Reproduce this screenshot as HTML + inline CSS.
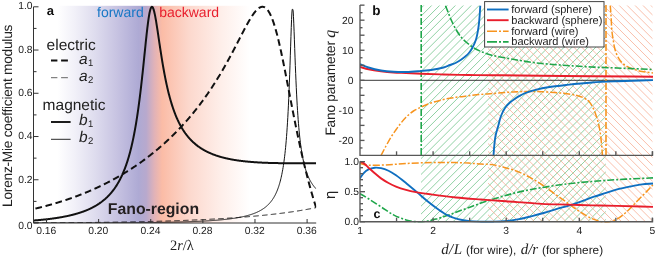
<!DOCTYPE html>
<html><head><meta charset="utf-8"><title>figure</title>
<style>
html,body{margin:0;padding:0;background:#fff;}
svg{display:block;font-family:"Liberation Sans",sans-serif;text-rendering:geometricPrecision;}
.ser{font-family:"Liberation Serif",serif;font-style:italic;}
</style></head><body>
<svg width="656" height="258" viewBox="0 0 656 258">
<defs>
<linearGradient id="bg" x1="0" x2="1" y1="0" y2="0">
<stop offset="0" stop-color="#ffffff"/>
<stop offset="0.085" stop-color="#ffffff"/>
<stop offset="0.147" stop-color="#f1f0f8"/>
<stop offset="0.218" stop-color="#dedcee"/>
<stop offset="0.292" stop-color="#c8c4e2"/>
<stop offset="0.341" stop-color="#b8b4da"/>
<stop offset="0.372" stop-color="#aeaad4"/>
<stop offset="0.399" stop-color="#b8a9cd"/>
<stop offset="0.427" stop-color="#e0b2b8"/>
<stop offset="0.455" stop-color="#fbbca6"/>
<stop offset="0.55" stop-color="#fcd8cd"/>
<stop offset="0.66" stop-color="#feeee9"/>
<stop offset="0.765" stop-color="#ffffff"/>
<stop offset="1" stop-color="#ffffff"/>
</linearGradient>
<clipPath id="ca"><rect x="33.5" y="3" width="282.7" height="220.0"/></clipPath>
<clipPath id="cg"><rect x="421.0" y="5.6" width="184.79999999999995" height="216.1"/></clipPath>
<clipPath id="co"><rect x="488.0" y="5.6" width="164.5" height="216.1"/></clipPath>
<clipPath id="cb"><rect x="360.0" y="5.1" width="293.5" height="150.20000000000002"/></clipPath>
<clipPath id="cc"><rect x="360.0" y="156.3" width="293.5" height="66.39999999999998"/></clipPath>
</defs>
<rect x="0" y="0" width="656" height="258" fill="#fff"/>
<g opacity="0.999">
<!-- panel a -->
<rect x="33.5" y="5.8" width="282.7" height="217.2" fill="url(#bg)"/>
<g clip-path="url(#ca)" fill="none" stroke="#111" stroke-linejoin="round">
<path d="M33.47,222.86 L33.78,222.86 L34.10,222.85 L34.41,222.85 L34.73,222.85 L35.04,222.85 L35.36,222.85 L35.67,222.85 L35.98,222.85 L36.30,222.85 L36.61,222.84 L36.93,222.84 L37.24,222.84 L37.56,222.84 L37.87,222.84 L38.19,222.84 L38.50,222.84 L38.81,222.84 L39.13,222.83 L39.44,222.83 L39.76,222.83 L40.07,222.83 L40.39,222.83 L40.70,222.83 L41.01,222.83 L41.33,222.83 L41.64,222.82 L41.96,222.82 L42.27,222.82 L42.59,222.82 L42.90,222.82 L43.22,222.82 L43.53,222.82 L43.84,222.81 L44.16,222.81 L44.47,222.81 L44.79,222.81 L45.10,222.81 L45.42,222.81 L45.73,222.81 L46.04,222.80 L46.36,222.80 L46.67,222.80 L46.99,222.80 L47.30,222.80 L47.62,222.80 L47.93,222.79 L48.25,222.79 L48.56,222.79 L48.87,222.79 L49.19,222.79 L49.50,222.79 L49.82,222.79 L50.13,222.78 L50.45,222.78 L50.76,222.78 L51.07,222.78 L51.39,222.78 L51.70,222.78 L52.02,222.77 L52.33,222.77 L52.65,222.77 L52.96,222.77 L53.28,222.77 L53.59,222.77 L53.90,222.76 L54.22,222.76 L54.53,222.76 L54.85,222.76 L55.16,222.76 L55.48,222.76 L55.79,222.75 L56.10,222.75 L56.42,222.75 L56.73,222.75 L57.05,222.75 L57.36,222.74 L57.68,222.74 L57.99,222.74 L58.31,222.74 L58.62,222.74 L58.93,222.74 L59.25,222.73 L59.56,222.73 L59.88,222.73 L60.19,222.73 L60.51,222.73 L60.82,222.72 L61.13,222.72 L61.45,222.72 L61.76,222.72 L62.08,222.72 L62.39,222.71 L62.71,222.71 L63.02,222.71 L63.34,222.71 L63.65,222.71 L63.96,222.70 L64.28,222.70 L64.59,222.70 L64.91,222.70 L65.22,222.70 L65.54,222.69 L65.85,222.69 L66.16,222.69 L66.48,222.69 L66.79,222.68 L67.11,222.68 L67.42,222.68 L67.74,222.68 L68.05,222.68 L68.37,222.67 L68.68,222.67 L68.99,222.67 L69.31,222.67 L69.62,222.66 L69.94,222.66 L70.25,222.66 L70.57,222.66 L70.88,222.65 L71.19,222.65 L71.51,222.65 L71.82,222.65 L72.14,222.65 L72.45,222.64 L72.77,222.64 L73.08,222.64 L73.40,222.64 L73.71,222.63 L74.02,222.63 L74.34,222.63 L74.65,222.63 L74.97,222.62 L75.28,222.62 L75.60,222.62 L75.91,222.62 L76.22,222.61 L76.54,222.61 L76.85,222.61 L77.17,222.61 L77.48,222.60 L77.80,222.60 L78.11,222.60 L78.43,222.60 L78.74,222.59 L79.05,222.59 L79.37,222.59 L79.68,222.58 L80.00,222.58 L80.31,222.58 L80.63,222.58 L80.94,222.57 L81.25,222.57 L81.57,222.57 L81.88,222.56 L82.20,222.56 L82.51,222.56 L82.83,222.56 L83.14,222.55 L83.46,222.55 L83.77,222.55 L84.08,222.54 L84.40,222.54 L84.71,222.54 L85.03,222.54 L85.34,222.53 L85.66,222.53 L85.97,222.53 L86.28,222.52 L86.60,222.52 L86.91,222.52 L87.23,222.51 L87.54,222.51 L87.86,222.51 L88.17,222.51 L88.49,222.50 L88.80,222.50 L89.11,222.50 L89.43,222.49 L89.74,222.49 L90.06,222.49 L90.37,222.48 L90.69,222.48 L91.00,222.48 L91.31,222.47 L91.63,222.47 L91.94,222.47 L92.26,222.46 L92.57,222.46 L92.89,222.46 L93.20,222.45 L93.52,222.45 L93.83,222.45 L94.14,222.44 L94.46,222.44 L94.77,222.44 L95.09,222.43 L95.40,222.43 L95.72,222.43 L96.03,222.42 L96.34,222.42 L96.66,222.42 L96.97,222.41 L97.29,222.41 L97.60,222.40 L97.92,222.40 L98.23,222.40 L98.55,222.39 L98.86,222.39 L99.17,222.39 L99.49,222.38 L99.80,222.38 L100.12,222.37 L100.43,222.37 L100.75,222.37 L101.06,222.36 L101.37,222.36 L101.69,222.36 L102.00,222.35 L102.32,222.35 L102.63,222.34 L102.95,222.34 L103.26,222.34 L103.58,222.33 L103.89,222.33 L104.20,222.32 L104.52,222.32 L104.83,222.32 L105.15,222.31 L105.46,222.31 L105.78,222.30 L106.09,222.30 L106.40,222.30 L106.72,222.29 L107.03,222.29 L107.35,222.28 L107.66,222.28 L107.98,222.27 L108.29,222.27 L108.60,222.27 L108.92,222.26 L109.23,222.26 L109.55,222.25 L109.86,222.25 L110.18,222.24 L110.49,222.24 L110.81,222.24 L111.12,222.23 L111.43,222.23 L111.75,222.22 L112.06,222.22 L112.38,222.21 L112.69,222.21 L113.01,222.20 L113.32,222.20 L113.63,222.19 L113.95,222.19 L114.26,222.18 L114.58,222.18 L114.89,222.18 L115.21,222.17 L115.52,222.17 L115.84,222.16 L116.15,222.16 L116.46,222.15 L116.78,222.15 L117.09,222.14 L117.41,222.14 L117.72,222.13 L118.04,222.13 L118.35,222.12 L118.66,222.12 L118.98,222.11 L119.29,222.11 L119.61,222.10 L119.92,222.10 L120.24,222.09 L120.55,222.09 L120.87,222.08 L121.18,222.08 L121.49,222.07 L121.81,222.07 L122.12,222.06 L122.44,222.06 L122.75,222.05 L123.07,222.04 L123.38,222.04 L123.69,222.03 L124.01,222.03 L124.32,222.02 L124.64,222.02 L124.95,222.01 L125.27,222.01 L125.58,222.00 L125.90,222.00 L126.21,221.99 L126.52,221.98 L126.84,221.98 L127.15,221.97 L127.47,221.97 L127.78,221.96 L128.10,221.96 L128.41,221.95 L128.72,221.94 L129.04,221.94 L129.35,221.93 L129.67,221.93 L129.98,221.92 L130.30,221.92 L130.61,221.91 L130.93,221.90 L131.24,221.90 L131.55,221.89 L131.87,221.89 L132.18,221.88 L132.50,221.87 L132.81,221.87 L133.13,221.86 L133.44,221.86 L133.75,221.85 L134.07,221.84 L134.38,221.84 L134.70,221.83 L135.01,221.82 L135.33,221.82 L135.64,221.81 L135.96,221.80 L136.27,221.80 L136.58,221.79 L136.90,221.79 L137.21,221.78 L137.53,221.77 L137.84,221.77 L138.16,221.76 L138.47,221.75 L138.78,221.75 L139.10,221.74 L139.41,221.73 L139.73,221.73 L140.04,221.72 L140.36,221.71 L140.67,221.71 L140.99,221.70 L141.30,221.69 L141.61,221.69 L141.93,221.68 L142.24,221.67 L142.56,221.66 L142.87,221.66 L143.19,221.65 L143.50,221.64 L143.81,221.64 L144.13,221.63 L144.44,221.62 L144.76,221.61 L145.07,221.61 L145.39,221.60 L145.70,221.59 L146.02,221.59 L146.33,221.58 L146.64,221.57 L146.96,221.56 L147.27,221.56 L147.59,221.55 L147.90,221.54 L148.22,221.53 L148.53,221.53 L148.84,221.52 L149.16,221.51 L149.47,221.50 L149.79,221.49 L150.10,221.49 L150.42,221.48 L150.73,221.47 L151.05,221.46 L151.36,221.46 L151.67,221.45 L151.99,221.44 L152.30,221.43 L152.62,221.42 L152.93,221.42 L153.25,221.41 L153.56,221.40 L153.87,221.39 L154.19,221.38 L154.50,221.38 L154.82,221.37 L155.13,221.36 L155.45,221.35 L155.76,221.34 L156.08,221.33 L156.39,221.33 L156.70,221.32 L157.02,221.31 L157.33,221.30 L157.65,221.29 L157.96,221.28 L158.28,221.27 L158.59,221.27 L158.90,221.26 L159.22,221.25 L159.53,221.24 L159.85,221.23 L160.16,221.22 L160.48,221.21 L160.79,221.20 L161.11,221.19 L161.42,221.19 L161.73,221.18 L162.05,221.17 L162.36,221.16 L162.68,221.15 L162.99,221.14 L163.31,221.13 L163.62,221.12 L163.93,221.11 L164.25,221.10 L164.56,221.09 L164.88,221.08 L165.19,221.07 L165.51,221.07 L165.82,221.06 L166.14,221.05 L166.45,221.04 L166.76,221.03 L167.08,221.02 L167.39,221.01 L167.71,221.00 L168.02,220.99 L168.34,220.98 L168.65,220.97 L168.96,220.96 L169.28,220.95 L169.59,220.94 L169.91,220.93 L170.22,220.92 L170.54,220.91 L170.85,220.90 L171.17,220.89 L171.48,220.88 L171.79,220.87 L172.11,220.86 L172.42,220.85 L172.74,220.84 L173.05,220.83 L173.37,220.81 L173.68,220.80 L173.99,220.79 L174.31,220.78 L174.62,220.77 L174.94,220.76 L175.25,220.75 L175.57,220.74 L175.88,220.73 L176.20,220.72 L176.51,220.71 L176.82,220.70 L177.14,220.69 L177.45,220.67 L177.77,220.66 L178.08,220.65 L178.40,220.64 L178.71,220.63 L179.02,220.62 L179.34,220.61 L179.65,220.60 L179.97,220.58 L180.28,220.57 L180.60,220.56 L180.91,220.55 L181.22,220.54 L181.54,220.53 L181.85,220.51 L182.17,220.50 L182.48,220.49 L182.80,220.48 L183.11,220.47 L183.43,220.46 L183.74,220.44 L184.05,220.43 L184.37,220.42 L184.68,220.41 L185.00,220.40 L185.31,220.38 L185.63,220.37 L185.94,220.36 L186.25,220.35 L186.57,220.33 L186.88,220.32 L187.20,220.31 L187.51,220.30 L187.83,220.28 L188.14,220.27 L188.46,220.26 L188.77,220.25 L189.08,220.23 L189.40,220.22 L189.71,220.21 L190.03,220.19 L190.34,220.18 L190.66,220.17 L190.97,220.15 L191.28,220.14 L191.60,220.13 L191.91,220.12 L192.23,220.10 L192.54,220.09 L192.86,220.07 L193.17,220.06 L193.49,220.05 L193.80,220.03 L194.11,220.02 L194.43,220.01 L194.74,219.99 L195.06,219.98 L195.37,219.97 L195.69,219.95 L196.00,219.94 L196.31,219.92 L196.63,219.91 L196.94,219.90 L197.26,219.88 L197.57,219.87 L197.89,219.85 L198.20,219.84 L198.52,219.82 L198.83,219.81 L199.14,219.80 L199.46,219.78 L199.77,219.77 L200.09,219.75 L200.40,219.74 L200.72,219.72 L201.03,219.71 L201.34,219.69 L201.66,219.68 L201.97,219.66 L202.29,219.65 L202.60,219.63 L202.92,219.62 L203.23,219.60 L203.55,219.59 L203.86,219.57 L204.17,219.56 L204.49,219.54 L204.80,219.52 L205.12,219.51 L205.43,219.49 L205.75,219.48 L206.06,219.46 L206.37,219.45 L206.69,219.43 L207.00,219.41 L207.32,219.40 L207.63,219.38 L207.95,219.37 L208.26,219.35 L208.58,219.33 L208.89,219.32 L209.20,219.30 L209.52,219.28 L209.83,219.27 L210.15,219.25 L210.46,219.23 L210.78,219.22 L211.09,219.20 L211.40,219.18 L211.72,219.17 L212.03,219.15 L212.35,219.13 L212.66,219.12 L212.98,219.10 L213.29,219.08 L213.61,219.06 L213.92,219.05 L214.23,219.03 L214.55,219.01 L214.86,218.99 L215.18,218.98 L215.49,218.96 L215.81,218.94 L216.12,218.92 L216.43,218.91 L216.75,218.89 L217.06,218.87 L217.38,218.85 L217.69,218.83 L218.01,218.82 L218.32,218.80 L218.64,218.78 L218.95,218.76 L219.26,218.74 L219.58,218.72 L219.89,218.70 L220.21,218.69 L220.52,218.67 L220.84,218.65 L221.15,218.63 L221.46,218.61 L221.78,218.59 L222.09,218.57 L222.41,218.55 L222.72,218.53 L223.04,218.51 L223.35,218.49 L223.67,218.48 L223.98,218.46 L224.29,218.44 L224.61,218.42 L224.92,218.40 L225.24,218.38 L225.55,218.36 L225.87,218.34 L226.18,218.32 L226.49,218.30 L226.81,218.28 L227.12,218.26 L227.44,218.24 L227.75,218.21 L228.07,218.19 L228.38,218.17 L228.70,218.15 L229.01,218.13 L229.32,218.11 L229.64,218.09 L229.95,218.07 L230.27,218.05 L230.58,218.03 L230.90,218.01 L231.21,217.98 L231.52,217.96 L231.84,217.94 L232.15,217.92 L232.47,217.90 L232.78,217.88 L233.10,217.85 L233.41,217.83 L233.73,217.81 L234.04,217.79 L234.35,217.77 L234.67,217.74 L234.98,217.72 L235.30,217.70 L235.61,217.68 L235.93,217.65 L236.24,217.63 L236.55,217.61 L236.87,217.58 L237.18,217.56 L237.50,217.54 L237.81,217.52 L238.13,217.49 L238.44,217.47 L238.76,217.45 L239.07,217.42 L239.38,217.40 L239.70,217.37 L240.01,217.35 L240.33,217.33 L240.64,217.30 L240.96,217.28 L241.27,217.26 L241.58,217.23 L241.90,217.21 L242.21,217.18 L242.53,217.16 L242.84,217.13 L243.16,217.11 L243.47,217.08 L243.79,217.06 L244.10,217.03 L244.41,217.01 L244.73,216.98 L245.04,216.96 L245.36,216.93 L245.67,216.91 L245.99,216.88 L246.30,216.86 L246.61,216.83 L246.93,216.80 L247.24,216.78 L247.56,216.75 L247.87,216.73 L248.19,216.70 L248.50,216.67 L248.82,216.65 L249.13,216.62 L249.44,216.59 L249.76,216.57 L250.07,216.54 L250.39,216.51 L250.70,216.49 L251.02,216.46 L251.33,216.43 L251.64,216.40 L251.96,216.38 L252.27,216.35 L252.59,216.32 L252.90,216.29 L253.22,216.27 L253.53,216.24 L253.84,216.21 L254.16,216.18 L254.47,216.15 L254.79,216.13 L255.10,216.10 L255.42,216.07 L255.73,216.04 L256.05,216.01 L256.36,215.98 L256.67,215.95 L256.99,215.92 L257.30,215.89 L257.62,215.86 L257.93,215.83 L258.25,215.80 L258.56,215.78 L258.87,215.75 L259.19,215.72 L259.50,215.69 L259.82,215.65 L260.13,215.62 L260.45,215.59 L260.76,215.56 L261.08,215.53 L261.39,215.50 L261.70,215.47 L262.02,215.44 L262.33,215.41 L262.65,215.38 L262.96,215.35 L263.28,215.31 L263.59,215.28 L263.90,215.25 L264.22,215.22 L264.53,215.19 L264.85,215.15 L265.16,215.12 L265.48,215.09 L265.79,215.06 L266.11,215.02 L266.42,214.99 L266.73,214.96 L267.05,214.93 L267.36,214.89 L267.68,214.86 L267.99,214.83 L268.31,214.79 L268.62,214.76 L268.93,214.72 L269.25,214.69 L269.56,214.66 L269.88,214.62 L270.19,214.59 L270.51,214.55 L270.82,214.52 L271.14,214.48 L271.45,214.45 L271.76,214.41 L272.08,214.38 L272.39,214.34 L272.71,214.31 L273.02,214.27 L273.34,214.23 L273.65,214.20 L273.96,214.16 L274.28,214.13 L274.59,214.09 L274.91,214.05 L275.22,214.02 L275.54,213.98 L275.85,213.94 L276.17,213.91 L276.48,213.87 L276.79,213.83 L277.11,213.79 L277.42,213.76 L277.74,213.72 L278.05,213.68 L278.37,213.64 L278.68,213.60 L278.99,213.56 L279.31,213.53 L279.62,213.49 L279.94,213.45 L280.25,213.41 L280.57,213.37 L280.88,213.33 L281.20,213.29 L281.51,213.25 L281.82,213.21 L282.14,213.17 L282.45,213.13 L282.77,213.09 L283.08,213.05 L283.40,213.01 L283.71,212.97 L284.02,212.93 L284.34,212.88 L284.65,212.84 L284.97,212.80 L285.28,212.76 L285.60,212.72 L285.91,212.67 L286.23,212.63 L286.54,212.59 L286.85,212.55 L287.17,212.50 L287.48,212.46 L287.80,212.42 L288.11,212.37 L288.43,212.33 L288.74,212.29 L289.05,212.24 L289.37,212.20 L289.68,212.15 L290.00,212.11 L290.31,212.06 L290.63,212.02 L290.94,211.97 L291.26,211.93 L291.57,211.88 L291.88,211.84 L292.20,211.79 L292.51,211.74 L292.83,211.70 L293.14,211.65 L293.46,211.61 L293.77,211.56 L294.08,211.51 L294.40,211.46 L294.71,211.42 L295.03,211.37 L295.34,211.32 L295.66,211.27 L295.97,211.22 L296.29,211.17 L296.60,211.13 L296.91,211.08 L297.23,211.03 L297.54,210.98 L297.86,210.93 L298.17,210.88 L298.49,210.83 L298.80,210.78 L299.11,210.73 L299.43,210.68 L299.74,210.62 L300.06,210.57 L300.37,210.52 L300.69,210.47 L301.00,210.42 L301.32,210.37 L301.63,210.31 L301.94,210.26 L302.26,210.21 L302.57,210.15 L302.89,210.10 L303.20,210.05 L303.52,209.99 L303.83,209.94 L304.14,209.88 L304.46,209.83 L304.77,209.77 L305.09,209.72 L305.40,209.66 L305.72,209.61 L306.03,209.55 L306.35,209.49 L306.66,209.44 L306.97,209.38 L307.29,209.32 L307.60,209.27 L307.92,209.21 L308.23,209.15 L308.55,209.09 L308.86,209.03 L309.17,208.98 L309.49,208.92 L309.80,208.86 L310.12,208.80 L310.43,208.74 L310.75,208.68 L311.06,208.62 L311.38,208.56 L311.69,208.49 L312.00,208.43 L312.32,208.37 L312.63,208.31 L312.95,208.25 L313.26,208.18 L313.58,208.12 L313.89,208.06 L314.20,207.99 L314.52,207.93 L314.83,207.87 L315.15,207.80 L315.46,207.74 L315.78,207.67 L316.09,207.60" stroke-width="1" stroke-dasharray="5.5 3.3"/>
<path d="M33.47,222.99 L33.78,222.99 L34.10,222.99 L34.41,222.99 L34.73,222.99 L35.04,222.99 L35.36,222.99 L35.67,222.99 L35.98,222.99 L36.30,222.99 L36.61,222.99 L36.93,222.99 L37.24,222.99 L37.56,222.99 L37.87,222.99 L38.19,222.99 L38.50,222.99 L38.81,222.99 L39.13,222.98 L39.44,222.98 L39.76,222.98 L40.07,222.98 L40.39,222.98 L40.70,222.98 L41.01,222.98 L41.33,222.98 L41.64,222.98 L41.96,222.98 L42.27,222.98 L42.59,222.98 L42.90,222.98 L43.22,222.98 L43.53,222.98 L43.84,222.98 L44.16,222.98 L44.47,222.98 L44.79,222.98 L45.10,222.98 L45.42,222.98 L45.73,222.98 L46.04,222.98 L46.36,222.98 L46.67,222.98 L46.99,222.98 L47.30,222.98 L47.62,222.98 L47.93,222.98 L48.25,222.98 L48.56,222.98 L48.87,222.98 L49.19,222.98 L49.50,222.98 L49.82,222.98 L50.13,222.98 L50.45,222.98 L50.76,222.98 L51.07,222.98 L51.39,222.98 L51.70,222.98 L52.02,222.98 L52.33,222.98 L52.65,222.98 L52.96,222.98 L53.28,222.98 L53.59,222.97 L53.90,222.97 L54.22,222.97 L54.53,222.97 L54.85,222.97 L55.16,222.97 L55.48,222.97 L55.79,222.97 L56.10,222.97 L56.42,222.97 L56.73,222.97 L57.05,222.97 L57.36,222.97 L57.68,222.97 L57.99,222.97 L58.31,222.97 L58.62,222.97 L58.93,222.97 L59.25,222.97 L59.56,222.97 L59.88,222.97 L60.19,222.97 L60.51,222.97 L60.82,222.97 L61.13,222.97 L61.45,222.97 L61.76,222.97 L62.08,222.97 L62.39,222.97 L62.71,222.97 L63.02,222.97 L63.34,222.96 L63.65,222.96 L63.96,222.96 L64.28,222.96 L64.59,222.96 L64.91,222.96 L65.22,222.96 L65.54,222.96 L65.85,222.96 L66.16,222.96 L66.48,222.96 L66.79,222.96 L67.11,222.96 L67.42,222.96 L67.74,222.96 L68.05,222.96 L68.37,222.96 L68.68,222.96 L68.99,222.96 L69.31,222.96 L69.62,222.96 L69.94,222.96 L70.25,222.96 L70.57,222.96 L70.88,222.96 L71.19,222.95 L71.51,222.95 L71.82,222.95 L72.14,222.95 L72.45,222.95 L72.77,222.95 L73.08,222.95 L73.40,222.95 L73.71,222.95 L74.02,222.95 L74.34,222.95 L74.65,222.95 L74.97,222.95 L75.28,222.95 L75.60,222.95 L75.91,222.95 L76.22,222.95 L76.54,222.95 L76.85,222.95 L77.17,222.95 L77.48,222.94 L77.80,222.94 L78.11,222.94 L78.43,222.94 L78.74,222.94 L79.05,222.94 L79.37,222.94 L79.68,222.94 L80.00,222.94 L80.31,222.94 L80.63,222.94 L80.94,222.94 L81.25,222.94 L81.57,222.94 L81.88,222.94 L82.20,222.94 L82.51,222.94 L82.83,222.93 L83.14,222.93 L83.46,222.93 L83.77,222.93 L84.08,222.93 L84.40,222.93 L84.71,222.93 L85.03,222.93 L85.34,222.93 L85.66,222.93 L85.97,222.93 L86.28,222.93 L86.60,222.93 L86.91,222.93 L87.23,222.92 L87.54,222.92 L87.86,222.92 L88.17,222.92 L88.49,222.92 L88.80,222.92 L89.11,222.92 L89.43,222.92 L89.74,222.92 L90.06,222.92 L90.37,222.92 L90.69,222.92 L91.00,222.92 L91.31,222.91 L91.63,222.91 L91.94,222.91 L92.26,222.91 L92.57,222.91 L92.89,222.91 L93.20,222.91 L93.52,222.91 L93.83,222.91 L94.14,222.91 L94.46,222.91 L94.77,222.91 L95.09,222.90 L95.40,222.90 L95.72,222.90 L96.03,222.90 L96.34,222.90 L96.66,222.90 L96.97,222.90 L97.29,222.90 L97.60,222.90 L97.92,222.90 L98.23,222.90 L98.55,222.89 L98.86,222.89 L99.17,222.89 L99.49,222.89 L99.80,222.89 L100.12,222.89 L100.43,222.89 L100.75,222.89 L101.06,222.89 L101.37,222.89 L101.69,222.88 L102.00,222.88 L102.32,222.88 L102.63,222.88 L102.95,222.88 L103.26,222.88 L103.58,222.88 L103.89,222.88 L104.20,222.88 L104.52,222.87 L104.83,222.87 L105.15,222.87 L105.46,222.87 L105.78,222.87 L106.09,222.87 L106.40,222.87 L106.72,222.87 L107.03,222.86 L107.35,222.86 L107.66,222.86 L107.98,222.86 L108.29,222.86 L108.60,222.86 L108.92,222.86 L109.23,222.86 L109.55,222.85 L109.86,222.85 L110.18,222.85 L110.49,222.85 L110.81,222.85 L111.12,222.85 L111.43,222.85 L111.75,222.84 L112.06,222.84 L112.38,222.84 L112.69,222.84 L113.01,222.84 L113.32,222.84 L113.63,222.84 L113.95,222.83 L114.26,222.83 L114.58,222.83 L114.89,222.83 L115.21,222.83 L115.52,222.83 L115.84,222.83 L116.15,222.82 L116.46,222.82 L116.78,222.82 L117.09,222.82 L117.41,222.82 L117.72,222.82 L118.04,222.81 L118.35,222.81 L118.66,222.81 L118.98,222.81 L119.29,222.81 L119.61,222.81 L119.92,222.80 L120.24,222.80 L120.55,222.80 L120.87,222.80 L121.18,222.80 L121.49,222.79 L121.81,222.79 L122.12,222.79 L122.44,222.79 L122.75,222.79 L123.07,222.79 L123.38,222.78 L123.69,222.78 L124.01,222.78 L124.32,222.78 L124.64,222.78 L124.95,222.77 L125.27,222.77 L125.58,222.77 L125.90,222.77 L126.21,222.77 L126.52,222.76 L126.84,222.76 L127.15,222.76 L127.47,222.76 L127.78,222.76 L128.10,222.75 L128.41,222.75 L128.72,222.75 L129.04,222.75 L129.35,222.74 L129.67,222.74 L129.98,222.74 L130.30,222.74 L130.61,222.74 L130.93,222.73 L131.24,222.73 L131.55,222.73 L131.87,222.73 L132.18,222.72 L132.50,222.72 L132.81,222.72 L133.13,222.72 L133.44,222.71 L133.75,222.71 L134.07,222.71 L134.38,222.71 L134.70,222.70 L135.01,222.70 L135.33,222.70 L135.64,222.70 L135.96,222.69 L136.27,222.69 L136.58,222.69 L136.90,222.69 L137.21,222.68 L137.53,222.68 L137.84,222.68 L138.16,222.67 L138.47,222.67 L138.78,222.67 L139.10,222.67 L139.41,222.66 L139.73,222.66 L140.04,222.66 L140.36,222.65 L140.67,222.65 L140.99,222.65 L141.30,222.64 L141.61,222.64 L141.93,222.64 L142.24,222.64 L142.56,222.63 L142.87,222.63 L143.19,222.63 L143.50,222.62 L143.81,222.62 L144.13,222.62 L144.44,222.61 L144.76,222.61 L145.07,222.61 L145.39,222.60 L145.70,222.60 L146.02,222.60 L146.33,222.59 L146.64,222.59 L146.96,222.59 L147.27,222.58 L147.59,222.58 L147.90,222.57 L148.22,222.57 L148.53,222.57 L148.84,222.56 L149.16,222.56 L149.47,222.56 L149.79,222.55 L150.10,222.55 L150.42,222.54 L150.73,222.54 L151.05,222.54 L151.36,222.53 L151.67,222.53 L151.99,222.53 L152.30,222.52 L152.62,222.52 L152.93,222.51 L153.25,222.51 L153.56,222.50 L153.87,222.50 L154.19,222.50 L154.50,222.49 L154.82,222.49 L155.13,222.48 L155.45,222.48 L155.76,222.47 L156.08,222.47 L156.39,222.47 L156.70,222.46 L157.02,222.46 L157.33,222.45 L157.65,222.45 L157.96,222.44 L158.28,222.44 L158.59,222.43 L158.90,222.43 L159.22,222.42 L159.53,222.42 L159.85,222.41 L160.16,222.41 L160.48,222.40 L160.79,222.40 L161.11,222.39 L161.42,222.39 L161.73,222.38 L162.05,222.38 L162.36,222.37 L162.68,222.37 L162.99,222.36 L163.31,222.36 L163.62,222.35 L163.93,222.35 L164.25,222.34 L164.56,222.33 L164.88,222.33 L165.19,222.32 L165.51,222.32 L165.82,222.31 L166.14,222.31 L166.45,222.30 L166.76,222.29 L167.08,222.29 L167.39,222.28 L167.71,222.28 L168.02,222.27 L168.34,222.26 L168.65,222.26 L168.96,222.25 L169.28,222.24 L169.59,222.24 L169.91,222.23 L170.22,222.22 L170.54,222.22 L170.85,222.21 L171.17,222.21 L171.48,222.20 L171.79,222.19 L172.11,222.18 L172.42,222.18 L172.74,222.17 L173.05,222.16 L173.37,222.16 L173.68,222.15 L173.99,222.14 L174.31,222.14 L174.62,222.13 L174.94,222.12 L175.25,222.11 L175.57,222.11 L175.88,222.10 L176.20,222.09 L176.51,222.08 L176.82,222.07 L177.14,222.07 L177.45,222.06 L177.77,222.05 L178.08,222.04 L178.40,222.04 L178.71,222.03 L179.02,222.02 L179.34,222.01 L179.65,222.00 L179.97,221.99 L180.28,221.99 L180.60,221.98 L180.91,221.97 L181.22,221.96 L181.54,221.95 L181.85,221.94 L182.17,221.93 L182.48,221.92 L182.80,221.91 L183.11,221.90 L183.43,221.90 L183.74,221.89 L184.05,221.88 L184.37,221.87 L184.68,221.86 L185.00,221.85 L185.31,221.84 L185.63,221.83 L185.94,221.82 L186.25,221.81 L186.57,221.80 L186.88,221.79 L187.20,221.78 L187.51,221.77 L187.83,221.76 L188.14,221.75 L188.46,221.73 L188.77,221.72 L189.08,221.71 L189.40,221.70 L189.71,221.69 L190.03,221.68 L190.34,221.67 L190.66,221.66 L190.97,221.65 L191.28,221.63 L191.60,221.62 L191.91,221.61 L192.23,221.60 L192.54,221.59 L192.86,221.57 L193.17,221.56 L193.49,221.55 L193.80,221.54 L194.11,221.52 L194.43,221.51 L194.74,221.50 L195.06,221.49 L195.37,221.47 L195.69,221.46 L196.00,221.45 L196.31,221.43 L196.63,221.42 L196.94,221.41 L197.26,221.39 L197.57,221.38 L197.89,221.36 L198.20,221.35 L198.52,221.34 L198.83,221.32 L199.14,221.31 L199.46,221.29 L199.77,221.28 L200.09,221.26 L200.40,221.25 L200.72,221.23 L201.03,221.22 L201.34,221.20 L201.66,221.18 L201.97,221.17 L202.29,221.15 L202.60,221.14 L202.92,221.12 L203.23,221.10 L203.55,221.09 L203.86,221.07 L204.17,221.05 L204.49,221.04 L204.80,221.02 L205.12,221.00 L205.43,220.98 L205.75,220.97 L206.06,220.95 L206.37,220.93 L206.69,220.91 L207.00,220.89 L207.32,220.87 L207.63,220.86 L207.95,220.84 L208.26,220.82 L208.58,220.80 L208.89,220.78 L209.20,220.76 L209.52,220.74 L209.83,220.72 L210.15,220.70 L210.46,220.68 L210.78,220.66 L211.09,220.63 L211.40,220.61 L211.72,220.59 L212.03,220.57 L212.35,220.55 L212.66,220.53 L212.98,220.50 L213.29,220.48 L213.61,220.46 L213.92,220.44 L214.23,220.41 L214.55,220.39 L214.86,220.37 L215.18,220.34 L215.49,220.32 L215.81,220.29 L216.12,220.27 L216.43,220.24 L216.75,220.22 L217.06,220.19 L217.38,220.17 L217.69,220.14 L218.01,220.11 L218.32,220.09 L218.64,220.06 L218.95,220.03 L219.26,220.00 L219.58,219.98 L219.89,219.95 L220.21,219.92 L220.52,219.89 L220.84,219.86 L221.15,219.83 L221.46,219.80 L221.78,219.77 L222.09,219.74 L222.41,219.71 L222.72,219.68 L223.04,219.65 L223.35,219.62 L223.67,219.59 L223.98,219.55 L224.29,219.52 L224.61,219.49 L224.92,219.45 L225.24,219.42 L225.55,219.39 L225.87,219.35 L226.18,219.32 L226.49,219.28 L226.81,219.25 L227.12,219.21 L227.44,219.17 L227.75,219.14 L228.07,219.10 L228.38,219.06 L228.70,219.02 L229.01,218.98 L229.32,218.94 L229.64,218.90 L229.95,218.86 L230.27,218.82 L230.58,218.78 L230.90,218.74 L231.21,218.70 L231.52,218.65 L231.84,218.61 L232.15,218.57 L232.47,218.52 L232.78,218.48 L233.10,218.43 L233.41,218.39 L233.73,218.34 L234.04,218.29 L234.35,218.25 L234.67,218.20 L234.98,218.15 L235.30,218.10 L235.61,218.05 L235.93,218.00 L236.24,217.95 L236.55,217.89 L236.87,217.84 L237.18,217.79 L237.50,217.73 L237.81,217.68 L238.13,217.62 L238.44,217.57 L238.76,217.51 L239.07,217.45 L239.38,217.39 L239.70,217.33 L240.01,217.27 L240.33,217.21 L240.64,217.15 L240.96,217.09 L241.27,217.02 L241.58,216.96 L241.90,216.89 L242.21,216.83 L242.53,216.76 L242.84,216.69 L243.16,216.62 L243.47,216.55 L243.79,216.48 L244.10,216.41 L244.41,216.33 L244.73,216.26 L245.04,216.18 L245.36,216.11 L245.67,216.03 L245.99,215.95 L246.30,215.87 L246.61,215.79 L246.93,215.71 L247.24,215.62 L247.56,215.54 L247.87,215.45 L248.19,215.36 L248.50,215.27 L248.82,215.18 L249.13,215.09 L249.44,215.00 L249.76,214.90 L250.07,214.81 L250.39,214.71 L250.70,214.61 L251.02,214.51 L251.33,214.41 L251.64,214.30 L251.96,214.19 L252.27,214.09 L252.59,213.98 L252.90,213.87 L253.22,213.75 L253.53,213.64 L253.84,213.52 L254.16,213.40 L254.47,213.28 L254.79,213.15 L255.10,213.03 L255.42,212.90 L255.73,212.77 L256.05,212.63 L256.36,212.50 L256.67,212.36 L256.99,212.22 L257.30,212.07 L257.62,211.93 L257.93,211.78 L258.25,211.63 L258.56,211.47 L258.87,211.31 L259.19,211.15 L259.50,210.99 L259.82,210.82 L260.13,210.65 L260.45,210.48 L260.76,210.30 L261.08,210.12 L261.39,209.93 L261.70,209.74 L262.02,209.55 L262.33,209.35 L262.65,209.15 L262.96,208.94 L263.28,208.73 L263.59,208.51 L263.90,208.29 L264.22,208.07 L264.53,207.84 L264.85,207.60 L265.16,207.36 L265.48,207.11 L265.79,206.86 L266.11,206.60 L266.42,206.33 L266.73,206.06 L267.05,205.78 L267.36,205.49 L267.68,205.20 L267.99,204.89 L268.31,204.58 L268.62,204.26 L268.93,203.94 L269.25,203.60 L269.56,203.26 L269.88,202.90 L270.19,202.54 L270.51,202.16 L270.82,201.78 L271.14,201.38 L271.45,200.97 L271.76,200.55 L272.08,200.11 L272.39,199.66 L272.71,199.20 L273.02,198.72 L273.34,198.23 L273.65,197.72 L273.96,197.19 L274.28,196.65 L274.59,196.08 L274.91,195.50 L275.22,194.90 L275.54,194.27 L275.85,193.62 L276.17,192.95 L276.48,192.25 L276.79,191.52 L277.11,190.77 L277.42,189.98 L277.74,189.16 L278.05,188.31 L278.37,187.42 L278.68,186.50 L278.99,185.53 L279.31,184.51 L279.62,183.46 L279.94,182.35 L280.25,181.18 L280.57,179.96 L280.88,178.68 L281.20,177.33 L281.51,175.92 L281.82,174.42 L282.14,172.84 L282.45,171.18 L282.77,169.41 L283.08,167.54 L283.40,165.56 L283.71,163.45 L284.02,161.21 L284.34,158.82 L284.65,156.27 L284.97,153.54 L285.28,150.61 L285.60,147.48 L285.91,144.10 L286.23,140.47 L286.54,136.55 L286.85,132.32 L287.17,127.73 L287.48,122.77 L287.80,117.38 L288.11,111.54 L288.43,105.20 L288.74,98.33 L289.05,90.89 L289.37,82.89 L289.68,74.33 L290.00,65.27 L290.31,55.82 L290.63,46.16 L290.94,36.61 L291.26,27.56 L291.57,19.52 L291.88,13.06 L292.20,9.39 L292.51,9.39 L292.83,9.39 L293.14,10.88 L293.46,16.25 L293.77,23.21 L294.08,31.22 L294.40,39.80 L294.71,48.54 L295.03,57.16 L295.34,65.47 L295.66,73.36 L295.97,80.77 L296.29,87.68 L296.60,94.10 L296.91,100.04 L297.23,105.53 L297.54,110.60 L297.86,115.29 L298.17,119.63 L298.49,123.65 L298.80,127.37 L299.11,130.84 L299.43,134.06 L299.74,137.06 L300.06,139.86 L300.37,142.47 L300.69,144.93 L301.00,147.22 L301.32,149.38 L301.63,151.41 L301.94,153.33 L302.26,155.13 L302.57,156.84 L302.89,158.45 L303.20,159.98 L303.52,161.43 L303.83,162.81 L304.14,164.11 L304.46,165.36 L304.77,166.55 L305.09,167.68 L305.40,168.76 L305.72,169.79 L306.03,170.77 L306.35,171.72 L306.66,172.62 L306.97,173.49 L307.29,174.32 L307.60,175.12 L307.92,175.88 L308.23,176.62 L308.55,177.33 L308.86,178.02 L309.17,178.67 L309.49,179.31 L309.80,179.92 L310.12,180.51 L310.43,181.08 L310.75,181.63 L311.06,182.17 L311.38,182.68 L311.69,183.18 L312.00,183.66 L312.32,184.13 L312.63,184.59 L312.95,185.02 L313.26,185.45 L313.58,185.86 L313.89,186.27 L314.20,186.66 L314.52,187.03 L314.83,187.40 L315.15,187.76 L315.46,188.11 L315.78,188.45 L316.09,188.78" stroke-width="1"/>
<path d="M33.47,209.03 L33.78,208.95 L34.10,208.88 L34.41,208.81 L34.73,208.73 L35.04,208.66 L35.36,208.59 L35.67,208.51 L35.98,208.44 L36.30,208.36 L36.61,208.29 L36.93,208.21 L37.24,208.14 L37.56,208.06 L37.87,207.99 L38.19,207.91 L38.50,207.83 L38.81,207.76 L39.13,207.68 L39.44,207.60 L39.76,207.52 L40.07,207.45 L40.39,207.37 L40.70,207.29 L41.01,207.21 L41.33,207.13 L41.64,207.05 L41.96,206.97 L42.27,206.89 L42.59,206.81 L42.90,206.73 L43.22,206.65 L43.53,206.57 L43.84,206.49 L44.16,206.40 L44.47,206.32 L44.79,206.24 L45.10,206.16 L45.42,206.07 L45.73,205.99 L46.04,205.91 L46.36,205.82 L46.67,205.74 L46.99,205.65 L47.30,205.57 L47.62,205.48 L47.93,205.40 L48.25,205.31 L48.56,205.23 L48.87,205.14 L49.19,205.05 L49.50,204.97 L49.82,204.88 L50.13,204.79 L50.45,204.70 L50.76,204.62 L51.07,204.53 L51.39,204.44 L51.70,204.35 L52.02,204.26 L52.33,204.17 L52.65,204.08 L52.96,203.99 L53.28,203.90 L53.59,203.81 L53.90,203.71 L54.22,203.62 L54.53,203.53 L54.85,203.44 L55.16,203.34 L55.48,203.25 L55.79,203.16 L56.10,203.06 L56.42,202.97 L56.73,202.88 L57.05,202.78 L57.36,202.69 L57.68,202.59 L57.99,202.49 L58.31,202.40 L58.62,202.30 L58.93,202.20 L59.25,202.11 L59.56,202.01 L59.88,201.91 L60.19,201.81 L60.51,201.72 L60.82,201.62 L61.13,201.52 L61.45,201.42 L61.76,201.32 L62.08,201.22 L62.39,201.12 L62.71,201.02 L63.02,200.91 L63.34,200.81 L63.65,200.71 L63.96,200.61 L64.28,200.51 L64.59,200.40 L64.91,200.30 L65.22,200.20 L65.54,200.09 L65.85,199.99 L66.16,199.88 L66.48,199.78 L66.79,199.67 L67.11,199.57 L67.42,199.46 L67.74,199.35 L68.05,199.25 L68.37,199.14 L68.68,199.03 L68.99,198.92 L69.31,198.81 L69.62,198.70 L69.94,198.60 L70.25,198.49 L70.57,198.38 L70.88,198.27 L71.19,198.15 L71.51,198.04 L71.82,197.93 L72.14,197.82 L72.45,197.71 L72.77,197.59 L73.08,197.48 L73.40,197.37 L73.71,197.25 L74.02,197.14 L74.34,197.03 L74.65,196.91 L74.97,196.80 L75.28,196.68 L75.60,196.56 L75.91,196.45 L76.22,196.33 L76.54,196.21 L76.85,196.10 L77.17,195.98 L77.48,195.86 L77.80,195.74 L78.11,195.62 L78.43,195.50 L78.74,195.38 L79.05,195.26 L79.37,195.14 L79.68,195.02 L80.00,194.90 L80.31,194.78 L80.63,194.65 L80.94,194.53 L81.25,194.41 L81.57,194.28 L81.88,194.16 L82.20,194.03 L82.51,193.91 L82.83,193.78 L83.14,193.66 L83.46,193.53 L83.77,193.41 L84.08,193.28 L84.40,193.15 L84.71,193.02 L85.03,192.90 L85.34,192.77 L85.66,192.64 L85.97,192.51 L86.28,192.38 L86.60,192.25 L86.91,192.12 L87.23,191.99 L87.54,191.85 L87.86,191.72 L88.17,191.59 L88.49,191.46 L88.80,191.32 L89.11,191.19 L89.43,191.06 L89.74,190.92 L90.06,190.79 L90.37,190.65 L90.69,190.51 L91.00,190.38 L91.31,190.24 L91.63,190.10 L91.94,189.97 L92.26,189.83 L92.57,189.69 L92.89,189.55 L93.20,189.41 L93.52,189.27 L93.83,189.13 L94.14,188.99 L94.46,188.85 L94.77,188.71 L95.09,188.56 L95.40,188.42 L95.72,188.28 L96.03,188.13 L96.34,187.99 L96.66,187.85 L96.97,187.70 L97.29,187.56 L97.60,187.41 L97.92,187.26 L98.23,187.12 L98.55,186.97 L98.86,186.82 L99.17,186.67 L99.49,186.52 L99.80,186.37 L100.12,186.22 L100.43,186.07 L100.75,185.92 L101.06,185.77 L101.37,185.62 L101.69,185.47 L102.00,185.32 L102.32,185.16 L102.63,185.01 L102.95,184.86 L103.26,184.70 L103.58,184.55 L103.89,184.39 L104.20,184.23 L104.52,184.08 L104.83,183.92 L105.15,183.76 L105.46,183.61 L105.78,183.45 L106.09,183.29 L106.40,183.13 L106.72,182.97 L107.03,182.81 L107.35,182.65 L107.66,182.48 L107.98,182.32 L108.29,182.16 L108.60,182.00 L108.92,181.83 L109.23,181.67 L109.55,181.50 L109.86,181.34 L110.18,181.17 L110.49,181.01 L110.81,180.84 L111.12,180.67 L111.43,180.51 L111.75,180.34 L112.06,180.17 L112.38,180.00 L112.69,179.83 L113.01,179.66 L113.32,179.49 L113.63,179.32 L113.95,179.14 L114.26,178.97 L114.58,178.80 L114.89,178.63 L115.21,178.45 L115.52,178.28 L115.84,178.10 L116.15,177.92 L116.46,177.75 L116.78,177.57 L117.09,177.39 L117.41,177.22 L117.72,177.04 L118.04,176.86 L118.35,176.68 L118.66,176.50 L118.98,176.32 L119.29,176.14 L119.61,175.95 L119.92,175.77 L120.24,175.59 L120.55,175.40 L120.87,175.22 L121.18,175.04 L121.49,174.85 L121.81,174.66 L122.12,174.48 L122.44,174.29 L122.75,174.10 L123.07,173.91 L123.38,173.73 L123.69,173.54 L124.01,173.35 L124.32,173.16 L124.64,172.96 L124.95,172.77 L125.27,172.58 L125.58,172.39 L125.90,172.19 L126.21,172.00 L126.52,171.80 L126.84,171.61 L127.15,171.41 L127.47,171.22 L127.78,171.02 L128.10,170.82 L128.41,170.62 L128.72,170.42 L129.04,170.22 L129.35,170.02 L129.67,169.82 L129.98,169.62 L130.30,169.42 L130.61,169.22 L130.93,169.01 L131.24,168.81 L131.55,168.60 L131.87,168.40 L132.18,168.19 L132.50,167.99 L132.81,167.78 L133.13,167.57 L133.44,167.36 L133.75,167.15 L134.07,166.94 L134.38,166.73 L134.70,166.52 L135.01,166.31 L135.33,166.10 L135.64,165.88 L135.96,165.67 L136.27,165.46 L136.58,165.24 L136.90,165.02 L137.21,164.81 L137.53,164.59 L137.84,164.37 L138.16,164.16 L138.47,163.94 L138.78,163.72 L139.10,163.50 L139.41,163.27 L139.73,163.05 L140.04,162.83 L140.36,162.61 L140.67,162.38 L140.99,162.16 L141.30,161.93 L141.61,161.71 L141.93,161.48 L142.24,161.25 L142.56,161.03 L142.87,160.80 L143.19,160.57 L143.50,160.34 L143.81,160.11 L144.13,159.87 L144.44,159.64 L144.76,159.41 L145.07,159.18 L145.39,158.94 L145.70,158.71 L146.02,158.47 L146.33,158.23 L146.64,158.00 L146.96,157.76 L147.27,157.52 L147.59,157.28 L147.90,157.04 L148.22,156.80 L148.53,156.56 L148.84,156.31 L149.16,156.07 L149.47,155.83 L149.79,155.58 L150.10,155.33 L150.42,155.09 L150.73,154.84 L151.05,154.59 L151.36,154.34 L151.67,154.09 L151.99,153.84 L152.30,153.59 L152.62,153.34 L152.93,153.09 L153.25,152.84 L153.56,152.58 L153.87,152.33 L154.19,152.07 L154.50,151.81 L154.82,151.56 L155.13,151.30 L155.45,151.04 L155.76,150.78 L156.08,150.52 L156.39,150.26 L156.70,149.99 L157.02,149.73 L157.33,149.47 L157.65,149.20 L157.96,148.94 L158.28,148.67 L158.59,148.40 L158.90,148.14 L159.22,147.87 L159.53,147.60 L159.85,147.33 L160.16,147.05 L160.48,146.78 L160.79,146.51 L161.11,146.23 L161.42,145.96 L161.73,145.68 L162.05,145.41 L162.36,145.13 L162.68,144.85 L162.99,144.57 L163.31,144.29 L163.62,144.01 L163.93,143.73 L164.25,143.44 L164.56,143.16 L164.88,142.88 L165.19,142.59 L165.51,142.30 L165.82,142.02 L166.14,141.73 L166.45,141.44 L166.76,141.15 L167.08,140.86 L167.39,140.57 L167.71,140.27 L168.02,139.98 L168.34,139.68 L168.65,139.39 L168.96,139.09 L169.28,138.79 L169.59,138.49 L169.91,138.19 L170.22,137.89 L170.54,137.59 L170.85,137.29 L171.17,136.99 L171.48,136.68 L171.79,136.38 L172.11,136.07 L172.42,135.76 L172.74,135.45 L173.05,135.14 L173.37,134.83 L173.68,134.52 L173.99,134.21 L174.31,133.89 L174.62,133.58 L174.94,133.26 L175.25,132.95 L175.57,132.63 L175.88,132.31 L176.20,131.99 L176.51,131.67 L176.82,131.35 L177.14,131.02 L177.45,130.70 L177.77,130.38 L178.08,130.05 L178.40,129.72 L178.71,129.39 L179.02,129.06 L179.34,128.73 L179.65,128.40 L179.97,128.07 L180.28,127.73 L180.60,127.40 L180.91,127.06 L181.22,126.73 L181.54,126.39 L181.85,126.05 L182.17,125.71 L182.48,125.37 L182.80,125.02 L183.11,124.68 L183.43,124.33 L183.74,123.99 L184.05,123.64 L184.37,123.29 L184.68,122.94 L185.00,122.59 L185.31,122.24 L185.63,121.88 L185.94,121.53 L186.25,121.17 L186.57,120.81 L186.88,120.46 L187.20,120.10 L187.51,119.73 L187.83,119.37 L188.14,119.01 L188.46,118.64 L188.77,118.28 L189.08,117.91 L189.40,117.54 L189.71,117.17 L190.03,116.80 L190.34,116.43 L190.66,116.05 L190.97,115.68 L191.28,115.30 L191.60,114.93 L191.91,114.55 L192.23,114.17 L192.54,113.79 L192.86,113.40 L193.17,113.02 L193.49,112.63 L193.80,112.25 L194.11,111.86 L194.43,111.47 L194.74,111.08 L195.06,110.68 L195.37,110.29 L195.69,109.89 L196.00,109.50 L196.31,109.10 L196.63,108.70 L196.94,108.30 L197.26,107.90 L197.57,107.49 L197.89,107.09 L198.20,106.68 L198.52,106.27 L198.83,105.86 L199.14,105.45 L199.46,105.04 L199.77,104.62 L200.09,104.21 L200.40,103.79 L200.72,103.37 L201.03,102.95 L201.34,102.53 L201.66,102.11 L201.97,101.68 L202.29,101.26 L202.60,100.83 L202.92,100.40 L203.23,99.97 L203.55,99.53 L203.86,99.10 L204.17,98.66 L204.49,98.23 L204.80,97.79 L205.12,97.35 L205.43,96.90 L205.75,96.46 L206.06,96.01 L206.37,95.57 L206.69,95.12 L207.00,94.67 L207.32,94.22 L207.63,93.76 L207.95,93.31 L208.26,92.85 L208.58,92.39 L208.89,91.93 L209.20,91.47 L209.52,91.00 L209.83,90.54 L210.15,90.07 L210.46,89.60 L210.78,89.13 L211.09,88.66 L211.40,88.18 L211.72,87.71 L212.03,87.23 L212.35,86.75 L212.66,86.27 L212.98,85.78 L213.29,85.30 L213.61,84.81 L213.92,84.32 L214.23,83.83 L214.55,83.34 L214.86,82.84 L215.18,82.35 L215.49,81.85 L215.81,81.35 L216.12,80.85 L216.43,80.34 L216.75,79.84 L217.06,79.33 L217.38,78.82 L217.69,78.31 L218.01,77.80 L218.32,77.29 L218.64,76.77 L218.95,76.25 L219.26,75.73 L219.58,75.21 L219.89,74.68 L220.21,74.16 L220.52,73.63 L220.84,73.10 L221.15,72.57 L221.46,72.04 L221.78,71.50 L222.09,70.97 L222.41,70.43 L222.72,69.89 L223.04,69.34 L223.35,68.80 L223.67,68.25 L223.98,67.71 L224.29,67.16 L224.61,66.60 L224.92,66.05 L225.24,65.49 L225.55,64.94 L225.87,64.38 L226.18,63.82 L226.49,63.26 L226.81,62.69 L227.12,62.13 L227.44,61.56 L227.75,60.99 L228.07,60.42 L228.38,59.84 L228.70,59.27 L229.01,58.69 L229.32,58.12 L229.64,57.54 L229.95,56.96 L230.27,56.37 L230.58,55.79 L230.90,55.20 L231.21,54.62 L231.52,54.03 L231.84,53.44 L232.15,52.85 L232.47,52.25 L232.78,51.66 L233.10,51.07 L233.41,50.47 L233.73,49.87 L234.04,49.27 L234.35,48.67 L234.67,48.07 L234.98,47.47 L235.30,46.87 L235.61,46.26 L235.93,45.66 L236.24,45.05 L236.55,44.45 L236.87,43.84 L237.18,43.23 L237.50,42.63 L237.81,42.02 L238.13,41.41 L238.44,40.80 L238.76,40.19 L239.07,39.58 L239.38,38.97 L239.70,38.36 L240.01,37.75 L240.33,37.15 L240.64,36.54 L240.96,35.93 L241.27,35.32 L241.58,34.72 L241.90,34.11 L242.21,33.51 L242.53,32.90 L242.84,32.30 L243.16,31.70 L243.47,31.10 L243.79,30.50 L244.10,29.90 L244.41,29.31 L244.73,28.72 L245.04,28.13 L245.36,27.54 L245.67,26.95 L245.99,26.37 L246.30,25.79 L246.61,25.22 L246.93,24.64 L247.24,24.08 L247.56,23.51 L247.87,22.95 L248.19,22.39 L248.50,21.84 L248.82,21.29 L249.13,20.75 L249.44,20.21 L249.76,19.68 L250.07,19.16 L250.39,18.64 L250.70,18.12 L251.02,17.61 L251.33,17.11 L251.64,16.62 L251.96,16.14 L252.27,15.66 L252.59,15.19 L252.90,14.73 L253.22,14.28 L253.53,13.84 L253.84,13.40 L254.16,12.98 L254.47,12.57 L254.79,12.17 L255.10,11.78 L255.42,11.40 L255.73,11.03 L256.05,10.67 L256.36,10.33 L256.67,10.00 L256.99,9.69 L257.30,9.38 L257.62,9.10 L257.93,8.82 L258.25,8.57 L258.56,8.32 L258.87,8.10 L259.19,7.89 L259.50,7.70 L259.82,7.52 L260.13,7.36 L260.45,7.22 L260.76,7.10 L261.08,7.00 L261.39,6.92 L261.70,6.86 L262.02,6.82 L262.33,6.80 L262.65,6.80 L262.96,6.83 L263.28,6.87 L263.59,6.94 L263.90,7.03 L264.22,7.15 L264.53,7.29 L264.85,7.45 L265.16,7.64 L265.48,7.85 L265.79,8.09 L266.11,8.36 L266.42,8.65 L266.73,8.96 L267.05,9.30 L267.36,9.67 L267.68,10.07 L267.99,10.49 L268.31,10.94 L268.62,11.42 L268.93,11.93 L269.25,12.46 L269.56,13.03 L269.88,13.62 L270.19,14.24 L270.51,14.88 L270.82,15.56 L271.14,16.26 L271.45,16.99 L271.76,17.75 L272.08,18.54 L272.39,19.36 L272.71,20.20 L273.02,21.07 L273.34,21.97 L273.65,22.89 L273.96,23.85 L274.28,24.82 L274.59,25.83 L274.91,26.86 L275.22,27.92 L275.54,29.00 L275.85,30.11 L276.17,31.24 L276.48,32.40 L276.79,33.57 L277.11,34.78 L277.42,36.00 L277.74,37.25 L278.05,38.52 L278.37,39.81 L278.68,41.12 L278.99,42.45 L279.31,43.80 L279.62,45.17 L279.94,46.55 L280.25,47.96 L280.57,49.38 L280.88,50.81 L281.20,52.26 L281.51,53.73 L281.82,55.21 L282.14,56.71 L282.45,58.22 L282.77,59.74 L283.08,61.27 L283.40,62.81 L283.71,64.36 L284.02,65.92 L284.34,67.50 L284.65,69.08 L284.97,70.66 L285.28,72.26 L285.60,73.86 L285.91,75.46 L286.23,77.08 L286.54,78.69 L286.85,80.31 L287.17,81.94 L287.48,83.57 L287.80,85.20 L288.11,86.83 L288.43,88.46 L288.74,90.09 L289.05,91.73 L289.37,93.36 L289.68,95.00 L290.00,96.63 L290.31,98.26 L290.63,99.89 L290.94,101.51 L291.26,103.14 L291.57,104.76 L291.88,106.38 L292.20,107.99 L292.51,109.60 L292.83,111.20 L293.14,112.80 L293.46,114.40 L293.77,115.99 L294.08,117.57 L294.40,119.15 L294.71,120.72 L295.03,122.28 L295.34,123.84 L295.66,125.39 L295.97,126.94 L296.29,128.47 L296.60,130.00 L296.91,131.53 L297.23,133.04 L297.54,134.54 L297.86,136.04 L298.17,137.53 L298.49,139.01 L298.80,140.48 L299.11,141.95 L299.43,143.40 L299.74,144.85 L300.06,146.28 L300.37,147.71 L300.69,149.13 L301.00,150.54 L301.32,151.94 L301.63,153.33 L301.94,154.71 L302.26,156.09 L302.57,157.45 L302.89,158.80 L303.20,160.15 L303.52,161.48 L303.83,162.81 L304.14,164.13 L304.46,165.43 L304.77,166.73 L305.09,168.02 L305.40,169.30 L305.72,170.57 L306.03,171.83 L306.35,173.08 L306.66,174.32 L306.97,175.55 L307.29,176.78 L307.60,177.99 L307.92,179.20 L308.23,180.39 L308.55,181.58 L308.86,182.76 L309.17,183.93 L309.49,185.09 L309.80,186.24 L310.12,187.38 L310.43,188.51 L310.75,189.64 L311.06,190.75 L311.38,191.86 L311.69,192.96 L312.00,194.05 L312.32,195.13 L312.63,196.21 L312.95,197.27 L313.26,198.33 L313.58,199.38 L313.89,200.42 L314.20,201.45 L314.52,202.48 L314.83,203.50 L315.15,204.51 L315.46,205.51 L315.78,206.50 L316.09,207.49" stroke-width="2" stroke-dasharray="6.7 3.7" stroke-dashoffset="8.4"/>
<path d="M33.47,220.52 L33.78,220.50 L34.10,220.47 L34.41,220.45 L34.73,220.42 L35.04,220.40 L35.36,220.37 L35.67,220.35 L35.98,220.32 L36.30,220.29 L36.61,220.27 L36.93,220.24 L37.24,220.21 L37.56,220.19 L37.87,220.16 L38.19,220.13 L38.50,220.10 L38.81,220.08 L39.13,220.05 L39.44,220.02 L39.76,219.99 L40.07,219.96 L40.39,219.93 L40.70,219.90 L41.01,219.87 L41.33,219.84 L41.64,219.81 L41.96,219.78 L42.27,219.75 L42.59,219.72 L42.90,219.68 L43.22,219.65 L43.53,219.62 L43.84,219.59 L44.16,219.55 L44.47,219.52 L44.79,219.49 L45.10,219.45 L45.42,219.42 L45.73,219.39 L46.04,219.35 L46.36,219.32 L46.67,219.28 L46.99,219.24 L47.30,219.21 L47.62,219.17 L47.93,219.13 L48.25,219.10 L48.56,219.06 L48.87,219.02 L49.19,218.98 L49.50,218.94 L49.82,218.91 L50.13,218.87 L50.45,218.83 L50.76,218.79 L51.07,218.75 L51.39,218.70 L51.70,218.66 L52.02,218.62 L52.33,218.58 L52.65,218.54 L52.96,218.49 L53.28,218.45 L53.59,218.41 L53.90,218.36 L54.22,218.32 L54.53,218.27 L54.85,218.23 L55.16,218.18 L55.48,218.14 L55.79,218.09 L56.10,218.04 L56.42,218.00 L56.73,217.95 L57.05,217.90 L57.36,217.85 L57.68,217.80 L57.99,217.75 L58.31,217.70 L58.62,217.65 L58.93,217.60 L59.25,217.55 L59.56,217.49 L59.88,217.44 L60.19,217.39 L60.51,217.33 L60.82,217.28 L61.13,217.22 L61.45,217.17 L61.76,217.11 L62.08,217.05 L62.39,217.00 L62.71,216.94 L63.02,216.88 L63.34,216.82 L63.65,216.76 L63.96,216.70 L64.28,216.64 L64.59,216.58 L64.91,216.52 L65.22,216.46 L65.54,216.39 L65.85,216.33 L66.16,216.27 L66.48,216.20 L66.79,216.13 L67.11,216.07 L67.42,216.00 L67.74,215.93 L68.05,215.86 L68.37,215.80 L68.68,215.73 L68.99,215.66 L69.31,215.58 L69.62,215.51 L69.94,215.44 L70.25,215.37 L70.57,215.29 L70.88,215.22 L71.19,215.14 L71.51,215.06 L71.82,214.99 L72.14,214.91 L72.45,214.83 L72.77,214.75 L73.08,214.67 L73.40,214.59 L73.71,214.51 L74.02,214.42 L74.34,214.34 L74.65,214.25 L74.97,214.17 L75.28,214.08 L75.60,213.99 L75.91,213.90 L76.22,213.81 L76.54,213.72 L76.85,213.63 L77.17,213.54 L77.48,213.45 L77.80,213.35 L78.11,213.26 L78.43,213.16 L78.74,213.06 L79.05,212.96 L79.37,212.86 L79.68,212.76 L80.00,212.66 L80.31,212.56 L80.63,212.46 L80.94,212.35 L81.25,212.24 L81.57,212.14 L81.88,212.03 L82.20,211.92 L82.51,211.81 L82.83,211.69 L83.14,211.58 L83.46,211.46 L83.77,211.35 L84.08,211.23 L84.40,211.11 L84.71,210.99 L85.03,210.87 L85.34,210.75 L85.66,210.62 L85.97,210.50 L86.28,210.37 L86.60,210.24 L86.91,210.11 L87.23,209.98 L87.54,209.84 L87.86,209.71 L88.17,209.57 L88.49,209.43 L88.80,209.29 L89.11,209.15 L89.43,209.01 L89.74,208.86 L90.06,208.72 L90.37,208.57 L90.69,208.42 L91.00,208.27 L91.31,208.11 L91.63,207.96 L91.94,207.80 L92.26,207.64 L92.57,207.48 L92.89,207.31 L93.20,207.15 L93.52,206.98 L93.83,206.81 L94.14,206.64 L94.46,206.46 L94.77,206.29 L95.09,206.11 L95.40,205.93 L95.72,205.74 L96.03,205.56 L96.34,205.37 L96.66,205.18 L96.97,204.99 L97.29,204.79 L97.60,204.59 L97.92,204.39 L98.23,204.19 L98.55,203.98 L98.86,203.78 L99.17,203.57 L99.49,203.35 L99.80,203.13 L100.12,202.91 L100.43,202.69 L100.75,202.46 L101.06,202.24 L101.37,202.00 L101.69,201.77 L102.00,201.53 L102.32,201.29 L102.63,201.04 L102.95,200.79 L103.26,200.54 L103.58,200.28 L103.89,200.02 L104.20,199.76 L104.52,199.49 L104.83,199.22 L105.15,198.95 L105.46,198.67 L105.78,198.39 L106.09,198.10 L106.40,197.81 L106.72,197.51 L107.03,197.21 L107.35,196.91 L107.66,196.60 L107.98,196.28 L108.29,195.96 L108.60,195.64 L108.92,195.31 L109.23,194.98 L109.55,194.64 L109.86,194.29 L110.18,193.94 L110.49,193.59 L110.81,193.23 L111.12,192.86 L111.43,192.49 L111.75,192.11 L112.06,191.72 L112.38,191.33 L112.69,190.94 L113.01,190.53 L113.32,190.12 L113.63,189.70 L113.95,189.28 L114.26,188.85 L114.58,188.41 L114.89,187.96 L115.21,187.50 L115.52,187.04 L115.84,186.57 L116.15,186.09 L116.46,185.60 L116.78,185.11 L117.09,184.60 L117.41,184.09 L117.72,183.56 L118.04,183.03 L118.35,182.49 L118.66,181.94 L118.98,181.37 L119.29,180.80 L119.61,180.21 L119.92,179.62 L120.24,179.01 L120.55,178.39 L120.87,177.76 L121.18,177.12 L121.49,176.46 L121.81,175.79 L122.12,175.11 L122.44,174.42 L122.75,173.71 L123.07,172.98 L123.38,172.24 L123.69,171.49 L124.01,170.72 L124.32,169.93 L124.64,169.13 L124.95,168.31 L125.27,167.48 L125.58,166.62 L125.90,165.75 L126.21,164.86 L126.52,163.94 L126.84,163.01 L127.15,162.06 L127.47,161.09 L127.78,160.09 L128.10,159.07 L128.41,158.03 L128.72,156.97 L129.04,155.88 L129.35,154.76 L129.67,153.62 L129.98,152.45 L130.30,151.26 L130.61,150.03 L130.93,148.78 L131.24,147.50 L131.55,146.18 L131.87,144.84 L132.18,143.46 L132.50,142.04 L132.81,140.60 L133.13,139.11 L133.44,137.59 L133.75,136.03 L134.07,134.44 L134.38,132.80 L134.70,131.12 L135.01,129.40 L135.33,127.64 L135.64,125.83 L135.96,123.98 L136.27,122.08 L136.58,120.13 L136.90,118.14 L137.21,116.09 L137.53,113.99 L137.84,111.85 L138.16,109.65 L138.47,107.40 L138.78,105.09 L139.10,102.73 L139.41,100.32 L139.73,97.85 L140.04,95.33 L140.36,92.75 L140.67,90.12 L140.99,87.44 L141.30,84.71 L141.61,81.93 L141.93,79.10 L142.24,76.22 L142.56,73.31 L142.87,70.35 L143.19,67.36 L143.50,64.35 L143.81,61.30 L144.13,58.24 L144.44,55.17 L144.76,52.10 L145.07,49.04 L145.39,45.99 L145.70,42.96 L146.02,39.98 L146.33,37.04 L146.64,34.17 L146.96,31.37 L147.27,28.66 L147.59,26.05 L147.90,23.55 L148.22,21.19 L148.53,18.97 L148.84,16.90 L149.16,15.01 L149.47,13.29 L149.79,11.76 L150.10,10.42 L150.42,9.29 L150.73,8.37 L151.05,7.66 L151.36,7.16 L151.67,6.88 L151.99,6.80 L152.30,6.93 L152.62,7.26 L152.93,7.78 L153.25,8.48 L153.56,9.35 L153.87,10.39 L154.19,11.57 L154.50,12.90 L154.82,14.35 L155.13,15.92 L155.45,17.59 L155.76,19.35 L156.08,21.18 L156.39,23.09 L156.70,25.05 L157.02,27.07 L157.33,29.11 L157.65,31.19 L157.96,33.30 L158.28,35.41 L158.59,37.53 L158.90,39.66 L159.22,41.78 L159.53,43.90 L159.85,46.00 L160.16,48.08 L160.48,50.15 L160.79,52.19 L161.11,54.21 L161.42,56.21 L161.73,58.17 L162.05,60.10 L162.36,62.01 L162.68,63.88 L162.99,65.72 L163.31,67.52 L163.62,69.29 L163.93,71.03 L164.25,72.73 L164.56,74.40 L164.88,76.04 L165.19,77.64 L165.51,79.21 L165.82,80.74 L166.14,82.25 L166.45,83.72 L166.76,85.16 L167.08,86.57 L167.39,87.95 L167.71,89.30 L168.02,90.62 L168.34,91.91 L168.65,93.17 L168.96,94.40 L169.28,95.61 L169.59,96.79 L169.91,97.95 L170.22,99.08 L170.54,100.19 L170.85,101.27 L171.17,102.33 L171.48,103.37 L171.79,104.38 L172.11,105.38 L172.42,106.35 L172.74,107.30 L173.05,108.23 L173.37,109.15 L173.68,110.04 L173.99,110.91 L174.31,111.77 L174.62,112.61 L174.94,113.43 L175.25,114.24 L175.57,115.03 L175.88,115.80 L176.20,116.56 L176.51,117.30 L176.82,118.03 L177.14,118.74 L177.45,119.44 L177.77,120.12 L178.08,120.80 L178.40,121.46 L178.71,122.10 L179.02,122.74 L179.34,123.36 L179.65,123.97 L179.97,124.57 L180.28,125.16 L180.60,125.74 L180.91,126.30 L181.22,126.86 L181.54,127.40 L181.85,127.94 L182.17,128.47 L182.48,128.98 L182.80,129.49 L183.11,129.99 L183.43,130.48 L183.74,130.96 L184.05,131.44 L184.37,131.90 L184.68,132.36 L185.00,132.81 L185.31,133.25 L185.63,133.68 L185.94,134.11 L186.25,134.53 L186.57,134.94 L186.88,135.34 L187.20,135.74 L187.51,136.13 L187.83,136.52 L188.14,136.90 L188.46,137.27 L188.77,137.64 L189.08,138.00 L189.40,138.35 L189.71,138.70 L190.03,139.05 L190.34,139.38 L190.66,139.72 L190.97,140.05 L191.28,140.37 L191.60,140.69 L191.91,141.00 L192.23,141.31 L192.54,141.61 L192.86,141.91 L193.17,142.20 L193.49,142.49 L193.80,142.78 L194.11,143.06 L194.43,143.34 L194.74,143.61 L195.06,143.88 L195.37,144.14 L195.69,144.40 L196.00,144.66 L196.31,144.91 L196.63,145.16 L196.94,145.41 L197.26,145.65 L197.57,145.89 L197.89,146.12 L198.20,146.36 L198.52,146.58 L198.83,146.81 L199.14,147.03 L199.46,147.25 L199.77,147.47 L200.09,147.68 L200.40,147.89 L200.72,148.10 L201.03,148.30 L201.34,148.50 L201.66,148.70 L201.97,148.90 L202.29,149.09 L202.60,149.28 L202.92,149.47 L203.23,149.65 L203.55,149.84 L203.86,150.02 L204.17,150.19 L204.49,150.37 L204.80,150.54 L205.12,150.71 L205.43,150.88 L205.75,151.05 L206.06,151.21 L206.37,151.37 L206.69,151.53 L207.00,151.69 L207.32,151.85 L207.63,152.00 L207.95,152.15 L208.26,152.30 L208.58,152.45 L208.89,152.60 L209.20,152.74 L209.52,152.88 L209.83,153.02 L210.15,153.16 L210.46,153.30 L210.78,153.43 L211.09,153.56 L211.40,153.69 L211.72,153.82 L212.03,153.95 L212.35,154.08 L212.66,154.20 L212.98,154.33 L213.29,154.45 L213.61,154.57 L213.92,154.69 L214.23,154.80 L214.55,154.92 L214.86,155.03 L215.18,155.15 L215.49,155.26 L215.81,155.37 L216.12,155.48 L216.43,155.58 L216.75,155.69 L217.06,155.79 L217.38,155.90 L217.69,156.00 L218.01,156.10 L218.32,156.20 L218.64,156.30 L218.95,156.39 L219.26,156.49 L219.58,156.58 L219.89,156.68 L220.21,156.77 L220.52,156.86 L220.84,156.95 L221.15,157.04 L221.46,157.12 L221.78,157.21 L222.09,157.30 L222.41,157.38 L222.72,157.46 L223.04,157.55 L223.35,157.63 L223.67,157.71 L223.98,157.79 L224.29,157.87 L224.61,157.94 L224.92,158.02 L225.24,158.10 L225.55,158.17 L225.87,158.24 L226.18,158.32 L226.49,158.39 L226.81,158.46 L227.12,158.53 L227.44,158.60 L227.75,158.67 L228.07,158.73 L228.38,158.80 L228.70,158.87 L229.01,158.93 L229.32,159.00 L229.64,159.06 L229.95,159.12 L230.27,159.18 L230.58,159.25 L230.90,159.31 L231.21,159.37 L231.52,159.42 L231.84,159.48 L232.15,159.54 L232.47,159.60 L232.78,159.65 L233.10,159.71 L233.41,159.76 L233.73,159.82 L234.04,159.87 L234.35,159.92 L234.67,159.97 L234.98,160.03 L235.30,160.08 L235.61,160.13 L235.93,160.18 L236.24,160.22 L236.55,160.27 L236.87,160.32 L237.18,160.37 L237.50,160.41 L237.81,160.46 L238.13,160.50 L238.44,160.55 L238.76,160.59 L239.07,160.64 L239.38,160.68 L239.70,160.72 L240.01,160.76 L240.33,160.80 L240.64,160.84 L240.96,160.88 L241.27,160.92 L241.58,160.96 L241.90,161.00 L242.21,161.04 L242.53,161.08 L242.84,161.12 L243.16,161.15 L243.47,161.19 L243.79,161.22 L244.10,161.26 L244.41,161.29 L244.73,161.33 L245.04,161.36 L245.36,161.39 L245.67,161.43 L245.99,161.46 L246.30,161.49 L246.61,161.52 L246.93,161.56 L247.24,161.59 L247.56,161.62 L247.87,161.65 L248.19,161.68 L248.50,161.70 L248.82,161.73 L249.13,161.76 L249.44,161.79 L249.76,161.82 L250.07,161.84 L250.39,161.87 L250.70,161.90 L251.02,161.92 L251.33,161.95 L251.64,161.97 L251.96,162.00 L252.27,162.02 L252.59,162.05 L252.90,162.07 L253.22,162.10 L253.53,162.12 L253.84,162.14 L254.16,162.16 L254.47,162.19 L254.79,162.21 L255.10,162.23 L255.42,162.25 L255.73,162.27 L256.05,162.29 L256.36,162.31 L256.67,162.33 L256.99,162.35 L257.30,162.37 L257.62,162.39 L257.93,162.41 L258.25,162.43 L258.56,162.45 L258.87,162.46 L259.19,162.48 L259.50,162.50 L259.82,162.52 L260.13,162.53 L260.45,162.55 L260.76,162.57 L261.08,162.58 L261.39,162.60 L261.70,162.61 L262.02,162.63 L262.33,162.64 L262.65,162.66 L262.96,162.67 L263.28,162.69 L263.59,162.70 L263.90,162.71 L264.22,162.73 L264.53,162.74 L264.85,162.75 L265.16,162.77 L265.48,162.78 L265.79,162.79 L266.11,162.80 L266.42,162.81 L266.73,162.83 L267.05,162.84 L267.36,162.85 L267.68,162.86 L267.99,162.87 L268.31,162.88 L268.62,162.89 L268.93,162.90 L269.25,162.91 L269.56,162.92 L269.88,162.93 L270.19,162.94 L270.51,162.95 L270.82,162.96 L271.14,162.97 L271.45,162.98 L271.76,162.99 L272.08,162.99 L272.39,163.00 L272.71,163.01 L273.02,163.02 L273.34,163.03 L273.65,163.03 L273.96,163.04 L274.28,163.05 L274.59,163.06 L274.91,163.06 L275.22,163.07 L275.54,163.08 L275.85,163.08 L276.17,163.09 L276.48,163.09 L276.79,163.10 L277.11,163.11 L277.42,163.11 L277.74,163.12 L278.05,163.12 L278.37,163.13 L278.68,163.13 L278.99,163.14 L279.31,163.14 L279.62,163.15 L279.94,163.15 L280.25,163.16 L280.57,163.16 L280.88,163.17 L281.20,163.17 L281.51,163.17 L281.82,163.18 L282.14,163.18 L282.45,163.19 L282.77,163.19 L283.08,163.19 L283.40,163.20 L283.71,163.20 L284.02,163.20 L284.34,163.21 L284.65,163.21 L284.97,163.21 L285.28,163.21 L285.60,163.22 L285.91,163.22 L286.23,163.22 L286.54,163.22 L286.85,163.23 L287.17,163.23 L287.48,163.23 L287.80,163.23 L288.11,163.23 L288.43,163.24 L288.74,163.24 L289.05,163.24 L289.37,163.24 L289.68,163.24 L290.00,163.25 L290.31,163.25 L290.63,163.25 L290.94,163.25 L291.26,163.25 L291.57,163.25 L291.88,163.25 L292.20,163.25 L292.51,163.26 L292.83,163.26 L293.14,163.26 L293.46,163.26 L293.77,163.26 L294.08,163.26 L294.40,163.26 L294.71,163.26 L295.03,163.26 L295.34,163.26 L295.66,163.26 L295.97,163.26 L296.29,163.26 L296.60,163.26 L296.91,163.26 L297.23,163.26 L297.54,163.27 L297.86,163.27 L298.17,163.27 L298.49,163.27 L298.80,163.27 L299.11,163.27 L299.43,163.27 L299.74,163.27 L300.06,163.27 L300.37,163.27 L300.69,163.27 L301.00,163.27 L301.32,163.27 L301.63,163.27 L301.94,163.27 L302.26,163.27 L302.57,163.27 L302.89,163.27 L303.20,163.27 L303.52,163.27 L303.83,163.27 L304.14,163.27 L304.46,163.27 L304.77,163.27 L305.09,163.27 L305.40,163.27 L305.72,163.27 L306.03,163.27 L306.35,163.27 L306.66,163.27 L306.97,163.27 L307.29,163.27 L307.60,163.27 L307.92,163.27 L308.23,163.27 L308.55,163.27 L308.86,163.27 L309.17,163.27 L309.49,163.27 L309.80,163.27 L310.12,163.27 L310.43,163.27 L310.75,163.27 L311.06,163.27 L311.38,163.27 L311.69,163.27 L312.00,163.27 L312.32,163.27 L312.63,163.27 L312.95,163.27 L313.26,163.27 L313.58,163.27 L313.89,163.28 L314.20,163.28 L314.52,163.28 L314.83,163.28 L315.15,163.28 L315.46,163.28 L315.78,163.28 L316.09,163.28" stroke-width="2"/>
</g>
<g stroke="#333" stroke-width="1" fill="none">
<path d="M33.5,6.8 V223.0 H316.2"/>
<line x1="33.5" y1="223.00" x2="38.5" y2="223.00"/><line x1="33.5" y1="179.76" x2="38.5" y2="179.76"/><line x1="33.5" y1="136.52" x2="38.5" y2="136.52"/><line x1="33.5" y1="93.28" x2="38.5" y2="93.28"/><line x1="33.5" y1="50.04" x2="38.5" y2="50.04"/><line x1="33.5" y1="6.80" x2="38.5" y2="6.80"/><line x1="33.5" y1="201.38" x2="36.5" y2="201.38"/><line x1="33.5" y1="158.14" x2="36.5" y2="158.14"/><line x1="33.5" y1="114.90" x2="36.5" y2="114.90"/><line x1="33.5" y1="71.66" x2="36.5" y2="71.66"/><line x1="33.5" y1="28.42" x2="36.5" y2="28.42"/><line x1="46.50" y1="223.0" x2="46.50" y2="219.0"/><line x1="98.62" y1="223.0" x2="98.62" y2="219.0"/><line x1="150.74" y1="223.0" x2="150.74" y2="219.0"/><line x1="202.86" y1="223.0" x2="202.86" y2="219.0"/><line x1="254.98" y1="223.0" x2="254.98" y2="219.0"/><line x1="307.10" y1="223.0" x2="307.10" y2="219.0"/>
</g>
<g font-size="10.3" fill="#222"><text x="32.5" y="229.10" text-anchor="end">0.0</text><text x="32.5" y="182.66" text-anchor="end">0.2</text><text x="32.5" y="139.42" text-anchor="end">0.4</text><text x="32.5" y="96.18" text-anchor="end">0.6</text><text x="32.5" y="52.94" text-anchor="end">0.8</text><text x="32.5" y="8.90" text-anchor="end">1.0</text><text x="46.20" y="233.7" text-anchor="middle">0.16</text><text x="98.32" y="233.7" text-anchor="middle">0.20</text><text x="150.44" y="233.7" text-anchor="middle">0.24</text><text x="202.56" y="233.7" text-anchor="middle">0.28</text><text x="254.68" y="233.7" text-anchor="middle">0.32</text><text x="306.80" y="233.7" text-anchor="middle">0.36</text></g>
<text transform="translate(11.5,206.9) rotate(-90)" font-size="13.7" textLength="182.3" lengthAdjust="spacing" fill="#222">Lorenz-Mie coefficient modulus</text>
<text x="170" y="250" font-size="14.5" font-family="Liberation Serif" textLength="23.8" lengthAdjust="spacing" fill="#222">2<tspan font-style="italic">r</tspan>/λ</text>
<text x="46.8" y="15.4" font-size="13" font-weight="bold" fill="#111">a</text>
<text x="97" y="17.4" font-size="14" fill="#1777c6">forward</text>
<text x="159.2" y="17.4" font-size="14" fill="#e81e2c">backward</text>
<g font-size="15.5" fill="#222">
<text x="46.6" y="49.6">electric</text>
<text x="42.6" y="110">magnetic</text>
<text x="79" y="64.2" font-style="italic">a<tspan font-size="9.5" font-style="normal" dy="2" dx="0.3">1</tspan></text>
<text x="79" y="80.5" font-style="italic">a<tspan font-size="9.5" font-style="normal" dy="2" dx="0.3">2</tspan></text>
<text x="79" y="125" font-style="italic">b<tspan font-size="9.5" font-style="normal" dy="2" dx="0.3">1</tspan></text>
<text x="79" y="142.4" font-style="italic">b<tspan font-size="9.5" font-style="normal" dy="2" dx="0.3">2</tspan></text>
</g>
<g stroke="#111" fill="none">
<path d="M51,60.5 H57.4 M61.1,60.5 H67.9" stroke-width="1.9"/>
<path d="M51,77.7 H57.4 M61.1,77.7 H67.9" stroke-width="0.9" stroke="#555"/>
<path d="M51,122 H70.6" stroke-width="1.9"/>
<path d="M51,139.3 H70.6" stroke-width="0.9"/>
</g>
<text x="107.8" y="213.6" font-size="15.8" font-weight="bold" fill="#231f20">Fano-region</text>

<!-- panel b/c hatches -->
<g clip-path="url(#cg)" stroke="#7cc994" stroke-width="0.85"><line x1="198.58" y1="222.70" x2="417.18" y2="4.10"/><line x1="206.50" y1="222.70" x2="425.10" y2="4.10"/><line x1="214.42" y1="222.70" x2="433.02" y2="4.10"/><line x1="222.34" y1="222.70" x2="440.94" y2="4.10"/><line x1="230.26" y1="222.70" x2="448.86" y2="4.10"/><line x1="238.18" y1="222.70" x2="456.78" y2="4.10"/><line x1="246.10" y1="222.70" x2="464.70" y2="4.10"/><line x1="254.02" y1="222.70" x2="472.62" y2="4.10"/><line x1="261.94" y1="222.70" x2="480.54" y2="4.10"/><line x1="269.86" y1="222.70" x2="488.46" y2="4.10"/><line x1="277.78" y1="222.70" x2="496.38" y2="4.10"/><line x1="285.70" y1="222.70" x2="504.30" y2="4.10"/><line x1="293.62" y1="222.70" x2="512.22" y2="4.10"/><line x1="301.54" y1="222.70" x2="520.14" y2="4.10"/><line x1="309.46" y1="222.70" x2="528.06" y2="4.10"/><line x1="317.38" y1="222.70" x2="535.98" y2="4.10"/><line x1="325.30" y1="222.70" x2="543.90" y2="4.10"/><line x1="333.22" y1="222.70" x2="551.82" y2="4.10"/><line x1="341.14" y1="222.70" x2="559.74" y2="4.10"/><line x1="349.06" y1="222.70" x2="567.66" y2="4.10"/><line x1="356.98" y1="222.70" x2="575.58" y2="4.10"/><line x1="364.90" y1="222.70" x2="583.50" y2="4.10"/><line x1="372.82" y1="222.70" x2="591.42" y2="4.10"/><line x1="380.74" y1="222.70" x2="599.34" y2="4.10"/><line x1="388.66" y1="222.70" x2="607.26" y2="4.10"/><line x1="396.58" y1="222.70" x2="615.18" y2="4.10"/><line x1="404.50" y1="222.70" x2="623.10" y2="4.10"/><line x1="412.42" y1="222.70" x2="631.02" y2="4.10"/><line x1="420.34" y1="222.70" x2="638.94" y2="4.10"/><line x1="428.26" y1="222.70" x2="646.86" y2="4.10"/><line x1="436.18" y1="222.70" x2="654.78" y2="4.10"/><line x1="444.10" y1="222.70" x2="662.70" y2="4.10"/><line x1="452.02" y1="222.70" x2="670.62" y2="4.10"/><line x1="459.94" y1="222.70" x2="678.54" y2="4.10"/><line x1="467.86" y1="222.70" x2="686.46" y2="4.10"/><line x1="475.78" y1="222.70" x2="694.38" y2="4.10"/><line x1="483.70" y1="222.70" x2="702.30" y2="4.10"/><line x1="491.62" y1="222.70" x2="710.22" y2="4.10"/><line x1="499.54" y1="222.70" x2="718.14" y2="4.10"/><line x1="507.46" y1="222.70" x2="726.06" y2="4.10"/><line x1="515.38" y1="222.70" x2="733.98" y2="4.10"/><line x1="523.30" y1="222.70" x2="741.90" y2="4.10"/><line x1="531.22" y1="222.70" x2="749.82" y2="4.10"/><line x1="539.14" y1="222.70" x2="757.74" y2="4.10"/><line x1="547.06" y1="222.70" x2="765.66" y2="4.10"/><line x1="554.98" y1="222.70" x2="773.58" y2="4.10"/><line x1="562.90" y1="222.70" x2="781.50" y2="4.10"/><line x1="570.82" y1="222.70" x2="789.42" y2="4.10"/><line x1="578.74" y1="222.70" x2="797.34" y2="4.10"/><line x1="586.66" y1="222.70" x2="805.26" y2="4.10"/><line x1="594.58" y1="222.70" x2="813.18" y2="4.10"/><line x1="602.50" y1="222.70" x2="821.10" y2="4.10"/></g>
<g clip-path="url(#co)" stroke="#f8ae96" stroke-width="0.8"><line x1="269.40" y1="4.10" x2="488.00" y2="222.70"/><line x1="277.32" y1="4.10" x2="495.92" y2="222.70"/><line x1="285.24" y1="4.10" x2="503.84" y2="222.70"/><line x1="293.16" y1="4.10" x2="511.76" y2="222.70"/><line x1="301.08" y1="4.10" x2="519.68" y2="222.70"/><line x1="309.00" y1="4.10" x2="527.60" y2="222.70"/><line x1="316.92" y1="4.10" x2="535.52" y2="222.70"/><line x1="324.84" y1="4.10" x2="543.44" y2="222.70"/><line x1="332.76" y1="4.10" x2="551.36" y2="222.70"/><line x1="340.68" y1="4.10" x2="559.28" y2="222.70"/><line x1="348.60" y1="4.10" x2="567.20" y2="222.70"/><line x1="356.52" y1="4.10" x2="575.12" y2="222.70"/><line x1="364.44" y1="4.10" x2="583.04" y2="222.70"/><line x1="372.36" y1="4.10" x2="590.96" y2="222.70"/><line x1="380.28" y1="4.10" x2="598.88" y2="222.70"/><line x1="388.20" y1="4.10" x2="606.80" y2="222.70"/><line x1="396.12" y1="4.10" x2="614.72" y2="222.70"/><line x1="404.04" y1="4.10" x2="622.64" y2="222.70"/><line x1="411.96" y1="4.10" x2="630.56" y2="222.70"/><line x1="419.88" y1="4.10" x2="638.48" y2="222.70"/><line x1="427.80" y1="4.10" x2="646.40" y2="222.70"/><line x1="435.72" y1="4.10" x2="654.32" y2="222.70"/><line x1="443.64" y1="4.10" x2="662.24" y2="222.70"/><line x1="451.56" y1="4.10" x2="670.16" y2="222.70"/><line x1="459.48" y1="4.10" x2="678.08" y2="222.70"/><line x1="467.40" y1="4.10" x2="686.00" y2="222.70"/><line x1="475.32" y1="4.10" x2="693.92" y2="222.70"/><line x1="483.24" y1="4.10" x2="701.84" y2="222.70"/><line x1="491.16" y1="4.10" x2="709.76" y2="222.70"/><line x1="499.08" y1="4.10" x2="717.68" y2="222.70"/><line x1="507.00" y1="4.10" x2="725.60" y2="222.70"/><line x1="514.92" y1="4.10" x2="733.52" y2="222.70"/><line x1="522.84" y1="4.10" x2="741.44" y2="222.70"/><line x1="530.76" y1="4.10" x2="749.36" y2="222.70"/><line x1="538.68" y1="4.10" x2="757.28" y2="222.70"/><line x1="546.60" y1="4.10" x2="765.20" y2="222.70"/><line x1="554.52" y1="4.10" x2="773.12" y2="222.70"/><line x1="562.44" y1="4.10" x2="781.04" y2="222.70"/><line x1="570.36" y1="4.10" x2="788.96" y2="222.70"/><line x1="578.28" y1="4.10" x2="796.88" y2="222.70"/><line x1="586.20" y1="4.10" x2="804.80" y2="222.70"/><line x1="594.12" y1="4.10" x2="812.72" y2="222.70"/><line x1="602.04" y1="4.10" x2="820.64" y2="222.70"/><line x1="609.96" y1="4.10" x2="828.56" y2="222.70"/><line x1="617.88" y1="4.10" x2="836.48" y2="222.70"/><line x1="625.80" y1="4.10" x2="844.40" y2="222.70"/><line x1="633.72" y1="4.10" x2="852.32" y2="222.70"/><line x1="641.64" y1="4.10" x2="860.24" y2="222.70"/><line x1="649.56" y1="4.10" x2="868.16" y2="222.70"/></g>
<!-- zero line -->
<line x1="360.0" y1="80.3" x2="652.5" y2="80.3" stroke="#222" stroke-width="0.9"/>
<g clip-path="url(#cb)" fill="none" stroke-linejoin="round">
<path d="M421.2,5.1 V155.3" stroke="#1fa64a" stroke-width="1.6" stroke-dasharray="7 2 2 2"/>
<path d="M606,5.1 V155.3" stroke="#f7941e" stroke-width="1.6" stroke-dasharray="7 2 2 2"/>
<path d="M381.00,155.50 C382.67,152.33 384.31,149.09 386.00,146.00 C387.64,143.01 389.28,140.03 391.00,137.25 C392.62,134.62 394.30,132.16 396.00,129.75 C397.64,127.42 399.29,125.13 401.00,123.00 C402.63,120.97 404.08,119.13 406.00,117.25 C408.17,115.12 410.86,112.75 413.50,111.00 C416.04,109.32 418.69,108.19 421.50,106.90 C424.50,105.52 427.58,104.18 431.00,103.00 C434.85,101.68 439.31,100.45 443.50,99.50 C447.64,98.56 451.82,97.92 456.00,97.30 C460.16,96.69 464.33,96.28 468.50,95.80 C472.67,95.32 476.96,94.77 481.00,94.40 C484.78,94.05 488.22,93.90 492.00,93.60 C496.03,93.28 500.33,92.80 504.50,92.50 C508.66,92.20 512.83,91.97 517.00,91.80 C521.17,91.63 525.33,91.51 529.50,91.50 C533.67,91.49 537.83,91.58 542.00,91.75 C546.17,91.92 550.34,92.17 554.50,92.50 C558.67,92.83 563.07,93.21 567.00,93.75 C570.53,94.23 573.99,94.71 577.00,95.50 C579.57,96.18 581.93,96.93 584.00,98.00 C585.88,98.97 587.53,99.95 589.00,101.50 C590.70,103.29 592.03,105.82 593.30,108.40 C594.75,111.34 595.96,114.96 597.00,118.30 C598.02,121.60 598.82,124.77 599.50,128.30 C600.25,132.19 600.71,136.38 601.20,140.70 C601.73,145.41 602.07,150.57 602.50,155.50" stroke="#f7941e" stroke-width="1.5" stroke-dasharray="7 2 2 2"/>
<path d="M610.25,5.60 C610.50,8.73 610.75,11.40 611.00,15.00 C611.33,19.83 611.51,27.40 612.00,32.00 C612.34,35.17 612.83,37.38 613.25,40.00 C613.66,42.54 613.88,45.02 614.50,47.50 C615.13,50.02 615.93,52.67 617.00,55.00 C618.03,57.24 619.25,59.43 620.75,61.25 C622.19,63.00 623.89,64.51 625.75,65.75 C627.64,67.01 629.63,67.86 632.00,68.75 C634.90,69.84 638.56,70.80 642.00,71.50 C645.56,72.23 649.33,72.50 653.00,73.00" stroke="#f7941e" stroke-width="1.5" stroke-dasharray="7 2 2 2"/>
<path d="M445.50,5.75 C446.33,7.83 447.13,9.82 448.00,12.00 C448.95,14.39 449.81,16.85 451.00,19.50 C452.40,22.62 454.23,26.46 456.00,29.50 C457.59,32.23 459.22,34.83 461.00,37.00 C462.58,38.92 464.10,40.34 466.00,42.00 C468.19,43.92 470.92,46.14 473.50,47.75 C475.93,49.27 478.28,50.35 481.00,51.50 C484.06,52.79 487.38,54.00 491.00,55.00 C495.13,56.15 500.08,56.95 504.50,57.80 C508.74,58.61 512.83,59.30 517.00,60.00 C521.16,60.70 525.33,61.42 529.50,62.00 C533.66,62.58 537.11,63.01 542.00,63.50 C548.90,64.19 558.66,64.92 567.00,65.50 C575.33,66.08 583.66,66.58 592.00,67.00 C600.33,67.42 608.67,67.67 617.00,68.00 C625.33,68.33 635.35,68.72 642.00,69.00 C646.41,69.19 649.33,69.33 653.00,69.50" stroke="#1fa64a" stroke-width="1.6" stroke-dasharray="7 2 2 2"/>
<path d="M360.00,67.00 C362.83,67.75 365.38,68.59 368.50,69.25 C372.25,70.04 376.83,70.71 381.00,71.25 C385.16,71.79 389.33,72.21 393.50,72.50 C397.66,72.79 401.61,72.81 406.00,73.00 C410.89,73.22 415.88,73.52 421.50,73.75 C428.19,74.03 435.93,74.30 443.50,74.50 C451.57,74.72 460.17,74.88 468.50,75.00 C476.83,75.12 485.05,75.12 493.50,75.20 C502.20,75.28 509.00,75.38 520.00,75.50 C538.12,75.69 568.99,75.98 592.00,76.20 C613.18,76.40 632.67,76.57 653.00,76.75" stroke="#e81e2c" stroke-width="1.9"/>
<path d="M360.00,64.25 C362.83,65.33 365.36,66.53 368.50,67.50 C372.23,68.66 376.81,69.79 381.00,70.50 C385.14,71.20 389.33,71.50 393.50,71.75 C397.66,72.00 401.83,72.08 406.00,72.00 C410.17,71.92 414.34,71.58 418.50,71.25 C422.67,70.92 426.85,70.62 431.00,70.00 C435.18,69.37 440.04,68.50 443.50,67.50 C446.05,66.76 447.88,65.81 450.00,65.00 C452.04,64.23 454.13,63.65 456.00,62.75 C457.78,61.89 459.45,60.79 461.00,59.75 C462.43,58.79 463.74,57.80 465.00,56.75 C466.23,55.72 467.40,54.77 468.50,53.50 C469.75,52.07 470.88,50.47 472.00,48.50 C473.42,45.99 474.95,42.81 476.00,39.50 C477.20,35.73 477.87,31.18 478.50,27.00 C479.12,22.85 479.45,18.30 479.75,14.50 C480.00,11.33 480.08,8.67 480.25,5.75" stroke="#0f6fc0" stroke-width="1.9"/>
<path d="M493.50,155.50 C493.75,152.33 493.92,149.20 494.25,146.00 C494.59,142.71 494.85,139.31 495.50,136.00 C496.16,132.64 497.28,129.33 498.20,126.00 C499.12,122.66 499.81,119.09 501.00,116.00 C502.11,113.13 503.39,110.34 505.00,108.00 C506.49,105.82 508.42,103.91 510.20,102.30 C511.77,100.88 513.36,99.82 515.00,98.70 C516.63,97.59 518.19,96.56 520.00,95.60 C521.99,94.54 524.07,93.60 526.50,92.70 C529.44,91.61 533.03,90.58 536.50,89.70 C540.18,88.77 543.67,88.02 548.00,87.30 C553.53,86.38 560.23,85.65 567.00,84.90 C574.76,84.04 583.66,83.11 592.00,82.50 C600.33,81.89 607.91,81.62 617.00,81.25 C627.91,80.80 641.00,80.48 653.00,80.10" stroke="#0f6fc0" stroke-width="1.9"/>
</g>
<g clip-path="url(#cc)" fill="none" stroke-linejoin="round">
<path d="M360.00,163.60 C362.83,164.11 365.38,164.85 368.50,165.13 C372.25,165.47 376.84,165.26 381.00,165.13 C385.17,165.01 389.33,164.64 393.50,164.37 C397.67,164.10 401.61,163.76 406.00,163.50 C410.89,163.22 416.21,162.97 421.50,162.79 C427.03,162.60 432.79,162.42 438.50,162.38 C444.29,162.35 450.66,162.45 456.00,162.59 C460.52,162.70 464.34,162.84 468.50,163.09 C472.67,163.35 476.96,163.86 481.00,164.11 C484.78,164.36 488.24,164.12 492.00,164.62 C496.06,165.17 500.35,166.33 504.50,167.43 C508.69,168.53 512.89,169.66 517.00,171.25 C521.23,172.87 525.39,174.90 529.50,177.11 C533.73,179.38 537.88,182.03 542.00,184.75 C546.22,187.54 550.33,190.69 554.50,193.66 C558.67,196.64 562.83,199.61 567.00,202.58 C571.17,205.55 575.26,208.79 579.50,211.50 C583.60,214.12 587.97,216.89 592.00,218.63 C595.43,220.11 598.87,221.22 602.00,221.69 C604.65,222.08 607.03,222.10 609.50,221.69 C612.04,221.27 614.44,220.51 617.00,219.14 C620.23,217.42 623.77,214.36 627.00,211.50 C630.45,208.45 633.67,204.70 637.00,201.31 C640.33,197.91 644.10,194.13 647.00,191.12 C649.27,188.76 651.00,186.87 653.00,184.75" stroke="#f7941e" stroke-width="1.5" stroke-dasharray="7 2 2 2"/>
<path d="M360.00,193.66 C362.83,195.36 365.41,196.84 368.50,198.76 C372.28,201.11 376.83,204.13 381.00,206.81 C385.17,209.49 389.23,212.65 393.50,214.86 C397.57,216.97 402.01,218.76 406.00,219.90 C409.47,220.90 412.57,221.46 416.00,221.69 C419.57,221.92 423.40,221.69 427.00,221.18 C430.57,220.67 434.02,219.60 437.50,218.63 C441.02,217.65 444.56,216.52 448.00,215.32 C451.39,214.14 454.48,212.82 458.00,211.50 C461.93,210.03 466.37,208.41 470.50,206.91 C474.54,205.44 478.49,203.94 482.50,202.58 C486.49,201.23 490.68,199.95 494.50,198.76 C497.98,197.67 500.97,196.70 504.50,195.70 C508.42,194.59 512.82,193.43 517.00,192.44 C521.16,191.46 525.33,190.61 529.50,189.79 C533.66,188.98 537.11,188.35 542.00,187.55 C548.90,186.43 558.65,184.90 567.00,183.88 C575.32,182.87 583.66,182.14 592.00,181.44 C600.33,180.73 608.66,180.16 617.00,179.65 C625.33,179.14 635.35,178.70 642.00,178.38 C646.41,178.17 649.33,178.04 653.00,177.87" stroke="#1fa64a" stroke-width="1.6" stroke-dasharray="7 2 2 2"/>
<path d="M360.00,178.38 C361.17,176.68 362.09,174.77 363.50,173.28 C364.92,171.79 366.64,170.40 368.50,169.46 C370.39,168.52 372.65,167.89 374.75,167.68 C376.82,167.48 378.85,167.74 381.00,168.19 C383.42,168.69 386.06,169.60 388.50,170.74 C391.07,171.94 393.34,173.49 396.00,175.32 C399.27,177.58 403.01,180.67 406.50,183.47 C410.07,186.35 413.68,189.40 417.20,192.39 C420.68,195.35 424.03,198.51 427.50,201.31 C430.86,204.02 434.26,206.58 437.70,208.95 C441.03,211.24 444.33,213.60 447.80,215.32 C451.11,216.96 454.41,218.17 458.00,219.14 C461.79,220.16 466.07,220.76 470.00,221.18 C473.73,221.58 477.22,221.60 481.00,221.69 C485.03,221.78 489.47,221.78 493.50,221.69 C497.28,221.60 500.59,221.54 504.50,221.18 C509.01,220.76 514.32,220.02 519.00,219.14 C523.47,218.30 527.72,217.15 532.00,216.08 C536.21,215.03 540.34,213.96 544.50,212.77 C548.68,211.58 552.83,210.18 557.00,208.95 C561.16,207.72 565.35,206.68 569.50,205.38 C573.68,204.07 577.88,202.56 582.00,201.10 C586.05,199.67 589.98,198.09 594.00,196.72 C597.98,195.37 602.00,194.21 606.00,192.95 C610.00,191.69 613.98,190.26 618.00,189.18 C621.98,188.12 625.99,187.33 630.00,186.53 C633.99,185.74 638.08,184.90 642.00,184.39 C645.73,183.90 649.33,183.78 653.00,183.47" stroke="#0f6fc0" stroke-width="1.9"/>
<path d="M360.00,161.57 C361.17,162.08 362.30,162.31 363.50,163.09 C365.10,164.14 366.74,166.08 368.50,167.68 C370.46,169.46 372.65,171.49 374.75,173.28 C376.81,175.05 378.76,176.80 381.00,178.38 C383.33,180.03 385.96,181.59 388.50,182.97 C390.97,184.30 393.28,185.44 396.00,186.53 C399.06,187.76 402.64,188.91 406.00,189.84 C409.31,190.77 412.32,191.43 416.00,192.14 C420.48,192.99 425.36,193.65 431.00,194.43 C438.27,195.43 447.66,196.64 456.00,197.49 C464.32,198.33 472.67,198.89 481.00,199.52 C489.33,200.16 496.91,200.66 506.00,201.31 C516.91,202.08 531.09,203.30 542.00,203.85 C551.09,204.32 558.67,204.36 567.00,204.62 C575.33,204.87 583.67,205.17 592.00,205.38 C600.33,205.60 607.91,205.67 617.00,205.89 C627.91,206.16 641.00,206.57 653.00,206.91" stroke="#e81e2c" stroke-width="1.9"/>
</g>
<g stroke="#585858" stroke-width="1.35" fill="none">
<path d="M360.0,5.1 V155.3 H652.5 V151.3"/>
<path d="M360.0,161.2 V221.7 H652.5 V217.7"/>
<line x1="360.0" y1="147.94" x2="362.5" y2="147.94"/><line x1="360.0" y1="140.42" x2="364.5" y2="140.42"/><line x1="360.0" y1="132.91" x2="362.5" y2="132.91"/><line x1="360.0" y1="125.39" x2="364.5" y2="125.39"/><line x1="360.0" y1="117.88" x2="362.5" y2="117.88"/><line x1="360.0" y1="110.36" x2="364.5" y2="110.36"/><line x1="360.0" y1="102.84" x2="362.5" y2="102.84"/><line x1="360.0" y1="95.33" x2="364.5" y2="95.33"/><line x1="360.0" y1="87.81" x2="362.5" y2="87.81"/><line x1="360.0" y1="80.30" x2="364.5" y2="80.30"/><line x1="360.0" y1="72.78" x2="362.5" y2="72.78"/><line x1="360.0" y1="65.27" x2="364.5" y2="65.27"/><line x1="360.0" y1="57.75" x2="362.5" y2="57.75"/><line x1="360.0" y1="50.24" x2="364.5" y2="50.24"/><line x1="360.0" y1="42.73" x2="362.5" y2="42.73"/><line x1="360.0" y1="35.21" x2="364.5" y2="35.21"/><line x1="360.0" y1="27.70" x2="362.5" y2="27.70"/><line x1="360.0" y1="20.18" x2="364.5" y2="20.18"/><line x1="360.0" y1="12.67" x2="362.5" y2="12.67"/><line x1="360.0" y1="5.15" x2="364.5" y2="5.15"/><line x1="396.55" y1="155.3" x2="396.55" y2="151.3"/><line x1="396.55" y1="221.7" x2="396.55" y2="217.7"/><line x1="433.10" y1="155.3" x2="433.10" y2="151.3"/><line x1="433.10" y1="221.7" x2="433.10" y2="217.7"/><line x1="469.65" y1="155.3" x2="469.65" y2="151.3"/><line x1="469.65" y1="221.7" x2="469.65" y2="217.7"/><line x1="506.20" y1="155.3" x2="506.20" y2="151.3"/><line x1="506.20" y1="221.7" x2="506.20" y2="217.7"/><line x1="542.75" y1="155.3" x2="542.75" y2="151.3"/><line x1="542.75" y1="221.7" x2="542.75" y2="217.7"/><line x1="579.30" y1="155.3" x2="579.30" y2="151.3"/><line x1="579.30" y1="221.7" x2="579.30" y2="217.7"/><line x1="615.85" y1="155.3" x2="615.85" y2="151.3"/><line x1="615.85" y1="221.7" x2="615.85" y2="217.7"/><line x1="652.40" y1="155.3" x2="652.40" y2="151.3"/><line x1="652.40" y1="221.7" x2="652.40" y2="217.7"/><line x1="360.0" y1="221.70" x2="365.0" y2="221.70"/><line x1="360.0" y1="215.70" x2="363.0" y2="215.70"/><line x1="360.0" y1="209.70" x2="363.0" y2="209.70"/><line x1="360.0" y1="203.70" x2="363.0" y2="203.70"/><line x1="360.0" y1="197.70" x2="363.0" y2="197.70"/><line x1="360.0" y1="191.70" x2="365.0" y2="191.70"/><line x1="360.0" y1="185.70" x2="363.0" y2="185.70"/><line x1="360.0" y1="179.70" x2="363.0" y2="179.70"/><line x1="360.0" y1="173.70" x2="363.0" y2="173.70"/><line x1="360.0" y1="167.70" x2="363.0" y2="167.70"/><line x1="360.0" y1="161.70" x2="365.0" y2="161.70"/>
</g>
<g font-size="10.3" fill="#222"><text x="353.4" y="23.88" text-anchor="end">20</text><text x="353.4" y="53.94" text-anchor="end">10</text><text x="353.4" y="84.00" text-anchor="end">0</text><text x="353.4" y="114.06" text-anchor="end">-10</text><text x="353.4" y="144.12" text-anchor="end">-20</text><text x="358.9" y="164.80" text-anchor="end">1.0</text><text x="358.9" y="194.80" text-anchor="end">0.5</text><text x="358.9" y="224.80" text-anchor="end">0.0</text><text x="360.00" y="233.6" text-anchor="middle">1</text><text x="433.10" y="233.6" text-anchor="middle">2</text><text x="506.20" y="233.6" text-anchor="middle">3</text><text x="579.30" y="233.6" text-anchor="middle">4</text><text x="652.40" y="233.6" text-anchor="middle">5</text></g>
<text transform="translate(335.2,135.5) rotate(-90)" font-size="13.7" textLength="105.8" lengthAdjust="spacing" fill="#222">Fano parameter <tspan class="ser" font-size="16">q</tspan></text>
<text transform="translate(334.8,199.0) rotate(-90)" font-size="15" fill="#222">η</text>
<text x="372.2" y="14.7" font-size="13.5" font-weight="bold" fill="#111">b</text>
<text x="373.5" y="218.2" font-size="12.5" font-weight="bold" fill="#111">c</text>
<g fill="#222"><text x="441.2" y="253.8" font-size="15" class="ser" textLength="20.8" lengthAdjust="spacing">d/L</text>
<text x="465.9" y="253.8" font-size="11.8" textLength="50.3" lengthAdjust="spacing">(for wire),</text>
<text x="520.8" y="253.8" font-size="15" class="ser" textLength="17.2" lengthAdjust="spacing">d/r</text>
<text x="542" y="253.8" font-size="11.8" textLength="61.1" lengthAdjust="spacing">(for sphere)</text></g>
<!-- legend -->
<rect x="484.6" y="1.6" width="119.4" height="45.4" fill="#fff" stroke="#444" stroke-width="1"/>
<g fill="none">
<path d="M487,9.5 H508.6" stroke="#0f6fc0" stroke-width="1.9"/>
<path d="M487,20.2 H508.6" stroke="#e81e2c" stroke-width="1.9"/>
<path d="M487,31.3 H508.6" stroke="#f7941e" stroke-width="1.5" stroke-dasharray="10 2 2 2"/>
<path d="M487,41.9 H508.6" stroke="#1fa64a" stroke-width="1.6" stroke-dasharray="10 2 2 2"/>
</g>
<g font-size="11" fill="#222">
<text x="511.3" y="13.1">forward (sphere)</text>
<text x="511.3" y="23.8">backward (sphere)</text>
<text x="511.3" y="34.8">forward (wire)</text>
<text x="511.3" y="45.3">backward (wire)</text>
</g>
</g>
</svg>
</body></html>
